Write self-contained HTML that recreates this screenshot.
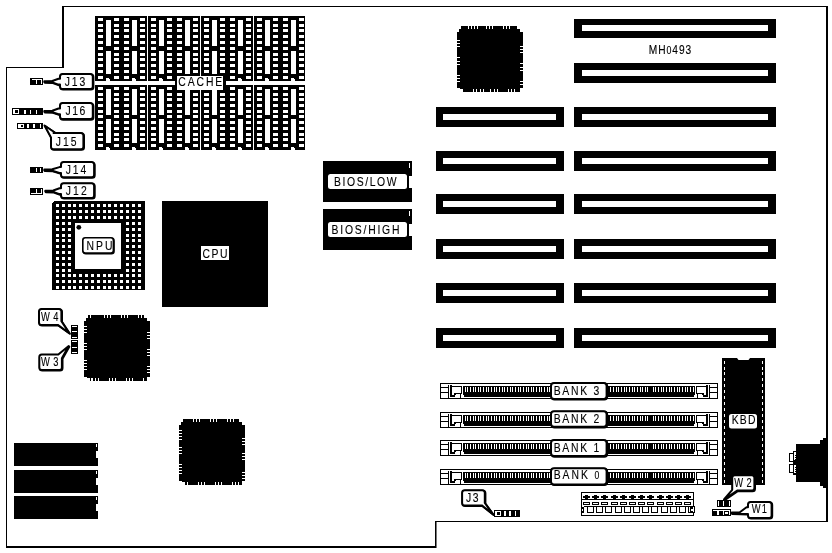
<!DOCTYPE html>
<html><head><meta charset="utf-8"><title>MH0493</title>
<style>
html,body{margin:0;padding:0;background:#fff;}
svg{display:block;filter:grayscale(1);}
text{font-family:"Liberation Sans",sans-serif;fill:#000;stroke:#000;stroke-width:0.12px;}
</style></head><body>
<svg width="832" height="553" viewBox="0 0 832 553" shape-rendering="crispEdges">
<rect x="0" y="0" width="832" height="553" fill="#fff"/>
<rect x="62" y="6" width="766" height="1" fill="#000"/>
<rect x="62" y="6" width="2" height="62" fill="#000"/>
<rect x="6" y="67" width="57" height="1" fill="#000"/>
<rect x="6" y="67" width="1" height="481" fill="#000"/>
<rect x="6" y="546" width="431" height="2" fill="#000"/>
<rect x="435" y="521" width="1" height="27" fill="#000"/>
<rect x="436" y="521" width="1" height="27" fill="#777"/>
<rect x="435" y="521" width="393" height="1" fill="#000"/>
<rect x="826" y="6" width="2" height="516" fill="#000"/>
<rect x="95" y="16" width="52" height="65" fill="#000"/>
<rect x="98" y="18" width="5" height="3" fill="#fff"/>
<rect x="98" y="24" width="5" height="3" fill="#fff"/>
<rect x="98" y="29" width="5" height="3" fill="#fff"/>
<rect x="98" y="35" width="5" height="3" fill="#fff"/>
<rect x="98" y="41" width="5" height="3" fill="#fff"/>
<rect x="98" y="47" width="5" height="3" fill="#fff"/>
<rect x="98" y="53" width="5" height="3" fill="#fff"/>
<rect x="98" y="58" width="5" height="3" fill="#fff"/>
<rect x="98" y="64" width="5" height="3" fill="#fff"/>
<rect x="98" y="70" width="5" height="3" fill="#fff"/>
<rect x="98" y="76" width="5" height="3" fill="#fff"/>
<rect x="114" y="18" width="5" height="3" fill="#fff"/>
<rect x="114" y="24" width="5" height="3" fill="#fff"/>
<rect x="114" y="29" width="5" height="3" fill="#fff"/>
<rect x="114" y="35" width="5" height="3" fill="#fff"/>
<rect x="114" y="41" width="5" height="3" fill="#fff"/>
<rect x="114" y="47" width="5" height="3" fill="#fff"/>
<rect x="114" y="53" width="5" height="3" fill="#fff"/>
<rect x="114" y="58" width="5" height="3" fill="#fff"/>
<rect x="114" y="64" width="5" height="3" fill="#fff"/>
<rect x="114" y="70" width="5" height="3" fill="#fff"/>
<rect x="114" y="76" width="5" height="3" fill="#fff"/>
<rect x="124" y="18" width="5" height="3" fill="#fff"/>
<rect x="124" y="24" width="5" height="3" fill="#fff"/>
<rect x="124" y="29" width="5" height="3" fill="#fff"/>
<rect x="124" y="35" width="5" height="3" fill="#fff"/>
<rect x="124" y="41" width="5" height="3" fill="#fff"/>
<rect x="124" y="47" width="5" height="3" fill="#fff"/>
<rect x="124" y="53" width="5" height="3" fill="#fff"/>
<rect x="124" y="58" width="5" height="3" fill="#fff"/>
<rect x="124" y="64" width="5" height="3" fill="#fff"/>
<rect x="124" y="70" width="5" height="3" fill="#fff"/>
<rect x="124" y="76" width="5" height="3" fill="#fff"/>
<rect x="140" y="18" width="5" height="3" fill="#fff"/>
<rect x="140" y="24" width="5" height="3" fill="#fff"/>
<rect x="140" y="29" width="5" height="3" fill="#fff"/>
<rect x="140" y="35" width="5" height="3" fill="#fff"/>
<rect x="140" y="41" width="5" height="3" fill="#fff"/>
<rect x="140" y="47" width="5" height="3" fill="#fff"/>
<rect x="140" y="53" width="5" height="3" fill="#fff"/>
<rect x="140" y="58" width="5" height="3" fill="#fff"/>
<rect x="140" y="64" width="5" height="3" fill="#fff"/>
<rect x="140" y="70" width="5" height="3" fill="#fff"/>
<rect x="140" y="76" width="5" height="3" fill="#fff"/>
<rect x="106" y="20" width="5" height="26" fill="#fff"/>
<rect x="106" y="51" width="5" height="23" fill="#fff"/>
<rect x="106" y="78" width="3" height="1" fill="#fff"/>
<rect x="106" y="79" width="4" height="2" fill="#fff"/>
<rect x="132" y="20" width="5" height="26" fill="#fff"/>
<rect x="132" y="51" width="5" height="23" fill="#fff"/>
<rect x="132" y="78" width="3" height="1" fill="#fff"/>
<rect x="132" y="79" width="4" height="2" fill="#fff"/>
<rect x="148" y="16" width="52" height="65" fill="#000"/>
<rect x="151" y="18" width="5" height="3" fill="#fff"/>
<rect x="151" y="24" width="5" height="3" fill="#fff"/>
<rect x="151" y="29" width="5" height="3" fill="#fff"/>
<rect x="151" y="35" width="5" height="3" fill="#fff"/>
<rect x="151" y="41" width="5" height="3" fill="#fff"/>
<rect x="151" y="47" width="5" height="3" fill="#fff"/>
<rect x="151" y="53" width="5" height="3" fill="#fff"/>
<rect x="151" y="58" width="5" height="3" fill="#fff"/>
<rect x="151" y="64" width="5" height="3" fill="#fff"/>
<rect x="151" y="70" width="5" height="3" fill="#fff"/>
<rect x="151" y="76" width="5" height="3" fill="#fff"/>
<rect x="167" y="18" width="5" height="3" fill="#fff"/>
<rect x="167" y="24" width="5" height="3" fill="#fff"/>
<rect x="167" y="29" width="5" height="3" fill="#fff"/>
<rect x="167" y="35" width="5" height="3" fill="#fff"/>
<rect x="167" y="41" width="5" height="3" fill="#fff"/>
<rect x="167" y="47" width="5" height="3" fill="#fff"/>
<rect x="167" y="53" width="5" height="3" fill="#fff"/>
<rect x="167" y="58" width="5" height="3" fill="#fff"/>
<rect x="167" y="64" width="5" height="3" fill="#fff"/>
<rect x="167" y="70" width="5" height="3" fill="#fff"/>
<rect x="167" y="76" width="5" height="3" fill="#fff"/>
<rect x="177" y="18" width="5" height="3" fill="#fff"/>
<rect x="177" y="24" width="5" height="3" fill="#fff"/>
<rect x="177" y="29" width="5" height="3" fill="#fff"/>
<rect x="177" y="35" width="5" height="3" fill="#fff"/>
<rect x="177" y="41" width="5" height="3" fill="#fff"/>
<rect x="177" y="47" width="5" height="3" fill="#fff"/>
<rect x="177" y="53" width="5" height="3" fill="#fff"/>
<rect x="177" y="58" width="5" height="3" fill="#fff"/>
<rect x="177" y="64" width="5" height="3" fill="#fff"/>
<rect x="177" y="70" width="5" height="3" fill="#fff"/>
<rect x="177" y="76" width="5" height="3" fill="#fff"/>
<rect x="193" y="18" width="5" height="3" fill="#fff"/>
<rect x="193" y="24" width="5" height="3" fill="#fff"/>
<rect x="193" y="29" width="5" height="3" fill="#fff"/>
<rect x="193" y="35" width="5" height="3" fill="#fff"/>
<rect x="193" y="41" width="5" height="3" fill="#fff"/>
<rect x="193" y="47" width="5" height="3" fill="#fff"/>
<rect x="193" y="53" width="5" height="3" fill="#fff"/>
<rect x="193" y="58" width="5" height="3" fill="#fff"/>
<rect x="193" y="64" width="5" height="3" fill="#fff"/>
<rect x="193" y="70" width="5" height="3" fill="#fff"/>
<rect x="193" y="76" width="5" height="3" fill="#fff"/>
<rect x="159" y="20" width="5" height="26" fill="#fff"/>
<rect x="159" y="51" width="5" height="23" fill="#fff"/>
<rect x="159" y="78" width="3" height="1" fill="#fff"/>
<rect x="159" y="79" width="4" height="2" fill="#fff"/>
<rect x="185" y="20" width="5" height="26" fill="#fff"/>
<rect x="185" y="51" width="5" height="23" fill="#fff"/>
<rect x="185" y="78" width="3" height="1" fill="#fff"/>
<rect x="185" y="79" width="4" height="2" fill="#fff"/>
<rect x="201" y="16" width="52" height="65" fill="#000"/>
<rect x="204" y="18" width="5" height="3" fill="#fff"/>
<rect x="204" y="24" width="5" height="3" fill="#fff"/>
<rect x="204" y="29" width="5" height="3" fill="#fff"/>
<rect x="204" y="35" width="5" height="3" fill="#fff"/>
<rect x="204" y="41" width="5" height="3" fill="#fff"/>
<rect x="204" y="47" width="5" height="3" fill="#fff"/>
<rect x="204" y="53" width="5" height="3" fill="#fff"/>
<rect x="204" y="58" width="5" height="3" fill="#fff"/>
<rect x="204" y="64" width="5" height="3" fill="#fff"/>
<rect x="204" y="70" width="5" height="3" fill="#fff"/>
<rect x="204" y="76" width="5" height="3" fill="#fff"/>
<rect x="220" y="18" width="5" height="3" fill="#fff"/>
<rect x="220" y="24" width="5" height="3" fill="#fff"/>
<rect x="220" y="29" width="5" height="3" fill="#fff"/>
<rect x="220" y="35" width="5" height="3" fill="#fff"/>
<rect x="220" y="41" width="5" height="3" fill="#fff"/>
<rect x="220" y="47" width="5" height="3" fill="#fff"/>
<rect x="220" y="53" width="5" height="3" fill="#fff"/>
<rect x="220" y="58" width="5" height="3" fill="#fff"/>
<rect x="220" y="64" width="5" height="3" fill="#fff"/>
<rect x="220" y="70" width="5" height="3" fill="#fff"/>
<rect x="220" y="76" width="5" height="3" fill="#fff"/>
<rect x="230" y="18" width="5" height="3" fill="#fff"/>
<rect x="230" y="24" width="5" height="3" fill="#fff"/>
<rect x="230" y="29" width="5" height="3" fill="#fff"/>
<rect x="230" y="35" width="5" height="3" fill="#fff"/>
<rect x="230" y="41" width="5" height="3" fill="#fff"/>
<rect x="230" y="47" width="5" height="3" fill="#fff"/>
<rect x="230" y="53" width="5" height="3" fill="#fff"/>
<rect x="230" y="58" width="5" height="3" fill="#fff"/>
<rect x="230" y="64" width="5" height="3" fill="#fff"/>
<rect x="230" y="70" width="5" height="3" fill="#fff"/>
<rect x="230" y="76" width="5" height="3" fill="#fff"/>
<rect x="246" y="18" width="5" height="3" fill="#fff"/>
<rect x="246" y="24" width="5" height="3" fill="#fff"/>
<rect x="246" y="29" width="5" height="3" fill="#fff"/>
<rect x="246" y="35" width="5" height="3" fill="#fff"/>
<rect x="246" y="41" width="5" height="3" fill="#fff"/>
<rect x="246" y="47" width="5" height="3" fill="#fff"/>
<rect x="246" y="53" width="5" height="3" fill="#fff"/>
<rect x="246" y="58" width="5" height="3" fill="#fff"/>
<rect x="246" y="64" width="5" height="3" fill="#fff"/>
<rect x="246" y="70" width="5" height="3" fill="#fff"/>
<rect x="246" y="76" width="5" height="3" fill="#fff"/>
<rect x="212" y="20" width="5" height="26" fill="#fff"/>
<rect x="212" y="51" width="5" height="23" fill="#fff"/>
<rect x="212" y="78" width="3" height="1" fill="#fff"/>
<rect x="212" y="79" width="4" height="2" fill="#fff"/>
<rect x="238" y="20" width="5" height="26" fill="#fff"/>
<rect x="238" y="51" width="5" height="23" fill="#fff"/>
<rect x="238" y="78" width="3" height="1" fill="#fff"/>
<rect x="238" y="79" width="4" height="2" fill="#fff"/>
<rect x="254" y="16" width="51" height="65" fill="#000"/>
<rect x="257" y="18" width="5" height="3" fill="#fff"/>
<rect x="257" y="24" width="5" height="3" fill="#fff"/>
<rect x="257" y="29" width="5" height="3" fill="#fff"/>
<rect x="257" y="35" width="5" height="3" fill="#fff"/>
<rect x="257" y="41" width="5" height="3" fill="#fff"/>
<rect x="257" y="47" width="5" height="3" fill="#fff"/>
<rect x="257" y="53" width="5" height="3" fill="#fff"/>
<rect x="257" y="58" width="5" height="3" fill="#fff"/>
<rect x="257" y="64" width="5" height="3" fill="#fff"/>
<rect x="257" y="70" width="5" height="3" fill="#fff"/>
<rect x="257" y="76" width="5" height="3" fill="#fff"/>
<rect x="273" y="18" width="5" height="3" fill="#fff"/>
<rect x="273" y="24" width="5" height="3" fill="#fff"/>
<rect x="273" y="29" width="5" height="3" fill="#fff"/>
<rect x="273" y="35" width="5" height="3" fill="#fff"/>
<rect x="273" y="41" width="5" height="3" fill="#fff"/>
<rect x="273" y="47" width="5" height="3" fill="#fff"/>
<rect x="273" y="53" width="5" height="3" fill="#fff"/>
<rect x="273" y="58" width="5" height="3" fill="#fff"/>
<rect x="273" y="64" width="5" height="3" fill="#fff"/>
<rect x="273" y="70" width="5" height="3" fill="#fff"/>
<rect x="273" y="76" width="5" height="3" fill="#fff"/>
<rect x="283" y="18" width="5" height="3" fill="#fff"/>
<rect x="283" y="24" width="5" height="3" fill="#fff"/>
<rect x="283" y="29" width="5" height="3" fill="#fff"/>
<rect x="283" y="35" width="5" height="3" fill="#fff"/>
<rect x="283" y="41" width="5" height="3" fill="#fff"/>
<rect x="283" y="47" width="5" height="3" fill="#fff"/>
<rect x="283" y="53" width="5" height="3" fill="#fff"/>
<rect x="283" y="58" width="5" height="3" fill="#fff"/>
<rect x="283" y="64" width="5" height="3" fill="#fff"/>
<rect x="283" y="70" width="5" height="3" fill="#fff"/>
<rect x="283" y="76" width="5" height="3" fill="#fff"/>
<rect x="299" y="18" width="5" height="3" fill="#fff"/>
<rect x="299" y="24" width="5" height="3" fill="#fff"/>
<rect x="299" y="29" width="5" height="3" fill="#fff"/>
<rect x="299" y="35" width="5" height="3" fill="#fff"/>
<rect x="299" y="41" width="5" height="3" fill="#fff"/>
<rect x="299" y="47" width="5" height="3" fill="#fff"/>
<rect x="299" y="53" width="5" height="3" fill="#fff"/>
<rect x="299" y="58" width="5" height="3" fill="#fff"/>
<rect x="299" y="64" width="5" height="3" fill="#fff"/>
<rect x="299" y="70" width="5" height="3" fill="#fff"/>
<rect x="299" y="76" width="5" height="3" fill="#fff"/>
<rect x="265" y="20" width="5" height="26" fill="#fff"/>
<rect x="265" y="51" width="5" height="23" fill="#fff"/>
<rect x="265" y="78" width="3" height="1" fill="#fff"/>
<rect x="265" y="79" width="4" height="2" fill="#fff"/>
<rect x="291" y="20" width="5" height="26" fill="#fff"/>
<rect x="291" y="51" width="5" height="23" fill="#fff"/>
<rect x="291" y="78" width="3" height="1" fill="#fff"/>
<rect x="291" y="79" width="4" height="2" fill="#fff"/>
<rect x="95" y="85" width="52" height="65" fill="#000"/>
<rect x="98" y="87" width="5" height="3" fill="#fff"/>
<rect x="98" y="93" width="5" height="3" fill="#fff"/>
<rect x="98" y="98" width="5" height="3" fill="#fff"/>
<rect x="98" y="104" width="5" height="3" fill="#fff"/>
<rect x="98" y="110" width="5" height="3" fill="#fff"/>
<rect x="98" y="115" width="5" height="3" fill="#fff"/>
<rect x="98" y="121" width="5" height="3" fill="#fff"/>
<rect x="98" y="127" width="5" height="3" fill="#fff"/>
<rect x="98" y="133" width="5" height="3" fill="#fff"/>
<rect x="98" y="138" width="5" height="3" fill="#fff"/>
<rect x="98" y="144" width="5" height="3" fill="#fff"/>
<rect x="114" y="87" width="5" height="3" fill="#fff"/>
<rect x="114" y="93" width="5" height="3" fill="#fff"/>
<rect x="114" y="98" width="5" height="3" fill="#fff"/>
<rect x="114" y="104" width="5" height="3" fill="#fff"/>
<rect x="114" y="110" width="5" height="3" fill="#fff"/>
<rect x="114" y="115" width="5" height="3" fill="#fff"/>
<rect x="114" y="121" width="5" height="3" fill="#fff"/>
<rect x="114" y="127" width="5" height="3" fill="#fff"/>
<rect x="114" y="133" width="5" height="3" fill="#fff"/>
<rect x="114" y="138" width="5" height="3" fill="#fff"/>
<rect x="114" y="144" width="5" height="3" fill="#fff"/>
<rect x="124" y="87" width="5" height="3" fill="#fff"/>
<rect x="124" y="93" width="5" height="3" fill="#fff"/>
<rect x="124" y="98" width="5" height="3" fill="#fff"/>
<rect x="124" y="104" width="5" height="3" fill="#fff"/>
<rect x="124" y="110" width="5" height="3" fill="#fff"/>
<rect x="124" y="115" width="5" height="3" fill="#fff"/>
<rect x="124" y="121" width="5" height="3" fill="#fff"/>
<rect x="124" y="127" width="5" height="3" fill="#fff"/>
<rect x="124" y="133" width="5" height="3" fill="#fff"/>
<rect x="124" y="138" width="5" height="3" fill="#fff"/>
<rect x="124" y="144" width="5" height="3" fill="#fff"/>
<rect x="140" y="87" width="5" height="3" fill="#fff"/>
<rect x="140" y="93" width="5" height="3" fill="#fff"/>
<rect x="140" y="98" width="5" height="3" fill="#fff"/>
<rect x="140" y="104" width="5" height="3" fill="#fff"/>
<rect x="140" y="110" width="5" height="3" fill="#fff"/>
<rect x="140" y="115" width="5" height="3" fill="#fff"/>
<rect x="140" y="121" width="5" height="3" fill="#fff"/>
<rect x="140" y="127" width="5" height="3" fill="#fff"/>
<rect x="140" y="133" width="5" height="3" fill="#fff"/>
<rect x="140" y="138" width="5" height="3" fill="#fff"/>
<rect x="140" y="144" width="5" height="3" fill="#fff"/>
<rect x="106" y="89" width="5" height="26" fill="#fff"/>
<rect x="106" y="119" width="5" height="24" fill="#fff"/>
<rect x="106" y="147" width="3" height="1" fill="#fff"/>
<rect x="106" y="148" width="4" height="2" fill="#fff"/>
<rect x="132" y="89" width="5" height="26" fill="#fff"/>
<rect x="132" y="119" width="5" height="24" fill="#fff"/>
<rect x="132" y="147" width="3" height="1" fill="#fff"/>
<rect x="132" y="148" width="4" height="2" fill="#fff"/>
<rect x="148" y="85" width="52" height="65" fill="#000"/>
<rect x="151" y="87" width="5" height="3" fill="#fff"/>
<rect x="151" y="93" width="5" height="3" fill="#fff"/>
<rect x="151" y="98" width="5" height="3" fill="#fff"/>
<rect x="151" y="104" width="5" height="3" fill="#fff"/>
<rect x="151" y="110" width="5" height="3" fill="#fff"/>
<rect x="151" y="115" width="5" height="3" fill="#fff"/>
<rect x="151" y="121" width="5" height="3" fill="#fff"/>
<rect x="151" y="127" width="5" height="3" fill="#fff"/>
<rect x="151" y="133" width="5" height="3" fill="#fff"/>
<rect x="151" y="138" width="5" height="3" fill="#fff"/>
<rect x="151" y="144" width="5" height="3" fill="#fff"/>
<rect x="167" y="87" width="5" height="3" fill="#fff"/>
<rect x="167" y="93" width="5" height="3" fill="#fff"/>
<rect x="167" y="98" width="5" height="3" fill="#fff"/>
<rect x="167" y="104" width="5" height="3" fill="#fff"/>
<rect x="167" y="110" width="5" height="3" fill="#fff"/>
<rect x="167" y="115" width="5" height="3" fill="#fff"/>
<rect x="167" y="121" width="5" height="3" fill="#fff"/>
<rect x="167" y="127" width="5" height="3" fill="#fff"/>
<rect x="167" y="133" width="5" height="3" fill="#fff"/>
<rect x="167" y="138" width="5" height="3" fill="#fff"/>
<rect x="167" y="144" width="5" height="3" fill="#fff"/>
<rect x="177" y="87" width="5" height="3" fill="#fff"/>
<rect x="177" y="93" width="5" height="3" fill="#fff"/>
<rect x="177" y="98" width="5" height="3" fill="#fff"/>
<rect x="177" y="104" width="5" height="3" fill="#fff"/>
<rect x="177" y="110" width="5" height="3" fill="#fff"/>
<rect x="177" y="115" width="5" height="3" fill="#fff"/>
<rect x="177" y="121" width="5" height="3" fill="#fff"/>
<rect x="177" y="127" width="5" height="3" fill="#fff"/>
<rect x="177" y="133" width="5" height="3" fill="#fff"/>
<rect x="177" y="138" width="5" height="3" fill="#fff"/>
<rect x="177" y="144" width="5" height="3" fill="#fff"/>
<rect x="193" y="87" width="5" height="3" fill="#fff"/>
<rect x="193" y="93" width="5" height="3" fill="#fff"/>
<rect x="193" y="98" width="5" height="3" fill="#fff"/>
<rect x="193" y="104" width="5" height="3" fill="#fff"/>
<rect x="193" y="110" width="5" height="3" fill="#fff"/>
<rect x="193" y="115" width="5" height="3" fill="#fff"/>
<rect x="193" y="121" width="5" height="3" fill="#fff"/>
<rect x="193" y="127" width="5" height="3" fill="#fff"/>
<rect x="193" y="133" width="5" height="3" fill="#fff"/>
<rect x="193" y="138" width="5" height="3" fill="#fff"/>
<rect x="193" y="144" width="5" height="3" fill="#fff"/>
<rect x="159" y="89" width="5" height="26" fill="#fff"/>
<rect x="159" y="119" width="5" height="24" fill="#fff"/>
<rect x="159" y="147" width="3" height="1" fill="#fff"/>
<rect x="159" y="148" width="4" height="2" fill="#fff"/>
<rect x="185" y="89" width="5" height="26" fill="#fff"/>
<rect x="185" y="119" width="5" height="24" fill="#fff"/>
<rect x="185" y="147" width="3" height="1" fill="#fff"/>
<rect x="185" y="148" width="4" height="2" fill="#fff"/>
<rect x="201" y="85" width="52" height="65" fill="#000"/>
<rect x="204" y="87" width="5" height="3" fill="#fff"/>
<rect x="204" y="93" width="5" height="3" fill="#fff"/>
<rect x="204" y="98" width="5" height="3" fill="#fff"/>
<rect x="204" y="104" width="5" height="3" fill="#fff"/>
<rect x="204" y="110" width="5" height="3" fill="#fff"/>
<rect x="204" y="115" width="5" height="3" fill="#fff"/>
<rect x="204" y="121" width="5" height="3" fill="#fff"/>
<rect x="204" y="127" width="5" height="3" fill="#fff"/>
<rect x="204" y="133" width="5" height="3" fill="#fff"/>
<rect x="204" y="138" width="5" height="3" fill="#fff"/>
<rect x="204" y="144" width="5" height="3" fill="#fff"/>
<rect x="220" y="87" width="5" height="3" fill="#fff"/>
<rect x="220" y="93" width="5" height="3" fill="#fff"/>
<rect x="220" y="98" width="5" height="3" fill="#fff"/>
<rect x="220" y="104" width="5" height="3" fill="#fff"/>
<rect x="220" y="110" width="5" height="3" fill="#fff"/>
<rect x="220" y="115" width="5" height="3" fill="#fff"/>
<rect x="220" y="121" width="5" height="3" fill="#fff"/>
<rect x="220" y="127" width="5" height="3" fill="#fff"/>
<rect x="220" y="133" width="5" height="3" fill="#fff"/>
<rect x="220" y="138" width="5" height="3" fill="#fff"/>
<rect x="220" y="144" width="5" height="3" fill="#fff"/>
<rect x="230" y="87" width="5" height="3" fill="#fff"/>
<rect x="230" y="93" width="5" height="3" fill="#fff"/>
<rect x="230" y="98" width="5" height="3" fill="#fff"/>
<rect x="230" y="104" width="5" height="3" fill="#fff"/>
<rect x="230" y="110" width="5" height="3" fill="#fff"/>
<rect x="230" y="115" width="5" height="3" fill="#fff"/>
<rect x="230" y="121" width="5" height="3" fill="#fff"/>
<rect x="230" y="127" width="5" height="3" fill="#fff"/>
<rect x="230" y="133" width="5" height="3" fill="#fff"/>
<rect x="230" y="138" width="5" height="3" fill="#fff"/>
<rect x="230" y="144" width="5" height="3" fill="#fff"/>
<rect x="246" y="87" width="5" height="3" fill="#fff"/>
<rect x="246" y="93" width="5" height="3" fill="#fff"/>
<rect x="246" y="98" width="5" height="3" fill="#fff"/>
<rect x="246" y="104" width="5" height="3" fill="#fff"/>
<rect x="246" y="110" width="5" height="3" fill="#fff"/>
<rect x="246" y="115" width="5" height="3" fill="#fff"/>
<rect x="246" y="121" width="5" height="3" fill="#fff"/>
<rect x="246" y="127" width="5" height="3" fill="#fff"/>
<rect x="246" y="133" width="5" height="3" fill="#fff"/>
<rect x="246" y="138" width="5" height="3" fill="#fff"/>
<rect x="246" y="144" width="5" height="3" fill="#fff"/>
<rect x="212" y="89" width="5" height="26" fill="#fff"/>
<rect x="212" y="119" width="5" height="24" fill="#fff"/>
<rect x="212" y="147" width="3" height="1" fill="#fff"/>
<rect x="212" y="148" width="4" height="2" fill="#fff"/>
<rect x="238" y="89" width="5" height="26" fill="#fff"/>
<rect x="238" y="119" width="5" height="24" fill="#fff"/>
<rect x="238" y="147" width="3" height="1" fill="#fff"/>
<rect x="238" y="148" width="4" height="2" fill="#fff"/>
<rect x="254" y="85" width="51" height="65" fill="#000"/>
<rect x="257" y="87" width="5" height="3" fill="#fff"/>
<rect x="257" y="93" width="5" height="3" fill="#fff"/>
<rect x="257" y="98" width="5" height="3" fill="#fff"/>
<rect x="257" y="104" width="5" height="3" fill="#fff"/>
<rect x="257" y="110" width="5" height="3" fill="#fff"/>
<rect x="257" y="115" width="5" height="3" fill="#fff"/>
<rect x="257" y="121" width="5" height="3" fill="#fff"/>
<rect x="257" y="127" width="5" height="3" fill="#fff"/>
<rect x="257" y="133" width="5" height="3" fill="#fff"/>
<rect x="257" y="138" width="5" height="3" fill="#fff"/>
<rect x="257" y="144" width="5" height="3" fill="#fff"/>
<rect x="273" y="87" width="5" height="3" fill="#fff"/>
<rect x="273" y="93" width="5" height="3" fill="#fff"/>
<rect x="273" y="98" width="5" height="3" fill="#fff"/>
<rect x="273" y="104" width="5" height="3" fill="#fff"/>
<rect x="273" y="110" width="5" height="3" fill="#fff"/>
<rect x="273" y="115" width="5" height="3" fill="#fff"/>
<rect x="273" y="121" width="5" height="3" fill="#fff"/>
<rect x="273" y="127" width="5" height="3" fill="#fff"/>
<rect x="273" y="133" width="5" height="3" fill="#fff"/>
<rect x="273" y="138" width="5" height="3" fill="#fff"/>
<rect x="273" y="144" width="5" height="3" fill="#fff"/>
<rect x="283" y="87" width="5" height="3" fill="#fff"/>
<rect x="283" y="93" width="5" height="3" fill="#fff"/>
<rect x="283" y="98" width="5" height="3" fill="#fff"/>
<rect x="283" y="104" width="5" height="3" fill="#fff"/>
<rect x="283" y="110" width="5" height="3" fill="#fff"/>
<rect x="283" y="115" width="5" height="3" fill="#fff"/>
<rect x="283" y="121" width="5" height="3" fill="#fff"/>
<rect x="283" y="127" width="5" height="3" fill="#fff"/>
<rect x="283" y="133" width="5" height="3" fill="#fff"/>
<rect x="283" y="138" width="5" height="3" fill="#fff"/>
<rect x="283" y="144" width="5" height="3" fill="#fff"/>
<rect x="299" y="87" width="5" height="3" fill="#fff"/>
<rect x="299" y="93" width="5" height="3" fill="#fff"/>
<rect x="299" y="98" width="5" height="3" fill="#fff"/>
<rect x="299" y="104" width="5" height="3" fill="#fff"/>
<rect x="299" y="110" width="5" height="3" fill="#fff"/>
<rect x="299" y="115" width="5" height="3" fill="#fff"/>
<rect x="299" y="121" width="5" height="3" fill="#fff"/>
<rect x="299" y="127" width="5" height="3" fill="#fff"/>
<rect x="299" y="133" width="5" height="3" fill="#fff"/>
<rect x="299" y="138" width="5" height="3" fill="#fff"/>
<rect x="299" y="144" width="5" height="3" fill="#fff"/>
<rect x="265" y="89" width="5" height="26" fill="#fff"/>
<rect x="265" y="119" width="5" height="24" fill="#fff"/>
<rect x="265" y="147" width="3" height="1" fill="#fff"/>
<rect x="265" y="148" width="4" height="2" fill="#fff"/>
<rect x="291" y="89" width="5" height="26" fill="#fff"/>
<rect x="291" y="119" width="5" height="24" fill="#fff"/>
<rect x="291" y="147" width="3" height="1" fill="#fff"/>
<rect x="291" y="148" width="4" height="2" fill="#fff"/>
<rect x="95" y="81" width="210" height="4" fill="#fff"/>
<rect x="175" y="76" width="51" height="14" fill="#000"/>
<rect x="177" y="76" width="46" height="14" fill="#fff"/>
<text transform="translate(178.3 86) scale(0.8 1)" font-size="13" textLength="55.00" lengthAdjust="spacing">CACHE</text>
<path d="M54 201 L145 201 L145 290 L52 290 L52 203 Z" fill="#000" stroke="none" stroke-width="1" />
<rect x="56" y="204" width="3" height="3" fill="#fff"/>
<rect x="56" y="210" width="3" height="3" fill="#fff"/>
<rect x="56" y="216" width="3" height="3" fill="#fff"/>
<rect x="56" y="222" width="3" height="3" fill="#fff"/>
<rect x="56" y="228" width="3" height="3" fill="#fff"/>
<rect x="56" y="234" width="3" height="3" fill="#fff"/>
<rect x="56" y="239" width="3" height="3" fill="#fff"/>
<rect x="56" y="245" width="3" height="3" fill="#fff"/>
<rect x="56" y="251" width="3" height="3" fill="#fff"/>
<rect x="56" y="257" width="3" height="3" fill="#fff"/>
<rect x="56" y="263" width="3" height="3" fill="#fff"/>
<rect x="56" y="269" width="3" height="3" fill="#fff"/>
<rect x="56" y="274" width="3" height="3" fill="#fff"/>
<rect x="56" y="280" width="3" height="3" fill="#fff"/>
<rect x="56" y="286" width="3" height="3" fill="#fff"/>
<rect x="62" y="204" width="3" height="3" fill="#fff"/>
<rect x="62" y="210" width="3" height="3" fill="#fff"/>
<rect x="62" y="216" width="3" height="3" fill="#fff"/>
<rect x="62" y="222" width="3" height="3" fill="#fff"/>
<rect x="62" y="228" width="3" height="3" fill="#fff"/>
<rect x="62" y="234" width="3" height="3" fill="#fff"/>
<rect x="62" y="239" width="3" height="3" fill="#fff"/>
<rect x="62" y="245" width="3" height="3" fill="#fff"/>
<rect x="62" y="251" width="3" height="3" fill="#fff"/>
<rect x="62" y="257" width="3" height="3" fill="#fff"/>
<rect x="62" y="263" width="3" height="3" fill="#fff"/>
<rect x="62" y="269" width="3" height="3" fill="#fff"/>
<rect x="62" y="274" width="3" height="3" fill="#fff"/>
<rect x="62" y="280" width="3" height="3" fill="#fff"/>
<rect x="62" y="286" width="3" height="3" fill="#fff"/>
<rect x="68" y="204" width="3" height="3" fill="#fff"/>
<rect x="68" y="210" width="3" height="3" fill="#fff"/>
<rect x="68" y="216" width="3" height="3" fill="#fff"/>
<rect x="68" y="222" width="3" height="3" fill="#fff"/>
<rect x="68" y="228" width="3" height="3" fill="#fff"/>
<rect x="68" y="234" width="3" height="3" fill="#fff"/>
<rect x="68" y="239" width="3" height="3" fill="#fff"/>
<rect x="68" y="245" width="3" height="3" fill="#fff"/>
<rect x="68" y="251" width="3" height="3" fill="#fff"/>
<rect x="68" y="257" width="3" height="3" fill="#fff"/>
<rect x="68" y="263" width="3" height="3" fill="#fff"/>
<rect x="68" y="269" width="3" height="3" fill="#fff"/>
<rect x="68" y="274" width="3" height="3" fill="#fff"/>
<rect x="68" y="280" width="3" height="3" fill="#fff"/>
<rect x="68" y="286" width="3" height="3" fill="#fff"/>
<rect x="73" y="204" width="3" height="3" fill="#fff"/>
<rect x="73" y="210" width="3" height="3" fill="#fff"/>
<rect x="73" y="216" width="3" height="3" fill="#fff"/>
<rect x="73" y="274" width="3" height="3" fill="#fff"/>
<rect x="73" y="280" width="3" height="3" fill="#fff"/>
<rect x="73" y="286" width="3" height="3" fill="#fff"/>
<rect x="79" y="204" width="3" height="3" fill="#fff"/>
<rect x="79" y="210" width="3" height="3" fill="#fff"/>
<rect x="79" y="216" width="3" height="3" fill="#fff"/>
<rect x="79" y="274" width="3" height="3" fill="#fff"/>
<rect x="79" y="280" width="3" height="3" fill="#fff"/>
<rect x="79" y="286" width="3" height="3" fill="#fff"/>
<rect x="85" y="204" width="3" height="3" fill="#fff"/>
<rect x="85" y="210" width="3" height="3" fill="#fff"/>
<rect x="85" y="216" width="3" height="3" fill="#fff"/>
<rect x="85" y="274" width="3" height="3" fill="#fff"/>
<rect x="85" y="280" width="3" height="3" fill="#fff"/>
<rect x="85" y="286" width="3" height="3" fill="#fff"/>
<rect x="91" y="204" width="3" height="3" fill="#fff"/>
<rect x="91" y="210" width="3" height="3" fill="#fff"/>
<rect x="91" y="216" width="3" height="3" fill="#fff"/>
<rect x="91" y="274" width="3" height="3" fill="#fff"/>
<rect x="91" y="280" width="3" height="3" fill="#fff"/>
<rect x="91" y="286" width="3" height="3" fill="#fff"/>
<rect x="97" y="204" width="3" height="3" fill="#fff"/>
<rect x="97" y="210" width="3" height="3" fill="#fff"/>
<rect x="97" y="216" width="3" height="3" fill="#fff"/>
<rect x="97" y="274" width="3" height="3" fill="#fff"/>
<rect x="97" y="280" width="3" height="3" fill="#fff"/>
<rect x="97" y="286" width="3" height="3" fill="#fff"/>
<rect x="103" y="204" width="3" height="3" fill="#fff"/>
<rect x="103" y="210" width="3" height="3" fill="#fff"/>
<rect x="103" y="216" width="3" height="3" fill="#fff"/>
<rect x="103" y="274" width="3" height="3" fill="#fff"/>
<rect x="103" y="280" width="3" height="3" fill="#fff"/>
<rect x="103" y="286" width="3" height="3" fill="#fff"/>
<rect x="108" y="204" width="3" height="3" fill="#fff"/>
<rect x="108" y="210" width="3" height="3" fill="#fff"/>
<rect x="108" y="216" width="3" height="3" fill="#fff"/>
<rect x="108" y="274" width="3" height="3" fill="#fff"/>
<rect x="108" y="280" width="3" height="3" fill="#fff"/>
<rect x="108" y="286" width="3" height="3" fill="#fff"/>
<rect x="114" y="204" width="3" height="3" fill="#fff"/>
<rect x="114" y="210" width="3" height="3" fill="#fff"/>
<rect x="114" y="216" width="3" height="3" fill="#fff"/>
<rect x="114" y="274" width="3" height="3" fill="#fff"/>
<rect x="114" y="280" width="3" height="3" fill="#fff"/>
<rect x="114" y="286" width="3" height="3" fill="#fff"/>
<rect x="120" y="204" width="3" height="3" fill="#fff"/>
<rect x="120" y="210" width="3" height="3" fill="#fff"/>
<rect x="120" y="216" width="3" height="3" fill="#fff"/>
<rect x="120" y="274" width="3" height="3" fill="#fff"/>
<rect x="120" y="280" width="3" height="3" fill="#fff"/>
<rect x="120" y="286" width="3" height="3" fill="#fff"/>
<rect x="126" y="204" width="3" height="3" fill="#fff"/>
<rect x="126" y="210" width="3" height="3" fill="#fff"/>
<rect x="126" y="216" width="3" height="3" fill="#fff"/>
<rect x="126" y="222" width="3" height="3" fill="#fff"/>
<rect x="126" y="228" width="3" height="3" fill="#fff"/>
<rect x="126" y="234" width="3" height="3" fill="#fff"/>
<rect x="126" y="239" width="3" height="3" fill="#fff"/>
<rect x="126" y="245" width="3" height="3" fill="#fff"/>
<rect x="126" y="251" width="3" height="3" fill="#fff"/>
<rect x="126" y="257" width="3" height="3" fill="#fff"/>
<rect x="126" y="263" width="3" height="3" fill="#fff"/>
<rect x="126" y="269" width="3" height="3" fill="#fff"/>
<rect x="126" y="274" width="3" height="3" fill="#fff"/>
<rect x="126" y="280" width="3" height="3" fill="#fff"/>
<rect x="126" y="286" width="3" height="3" fill="#fff"/>
<rect x="132" y="204" width="3" height="3" fill="#fff"/>
<rect x="132" y="210" width="3" height="3" fill="#fff"/>
<rect x="132" y="216" width="3" height="3" fill="#fff"/>
<rect x="132" y="222" width="3" height="3" fill="#fff"/>
<rect x="132" y="228" width="3" height="3" fill="#fff"/>
<rect x="132" y="234" width="3" height="3" fill="#fff"/>
<rect x="132" y="239" width="3" height="3" fill="#fff"/>
<rect x="132" y="245" width="3" height="3" fill="#fff"/>
<rect x="132" y="251" width="3" height="3" fill="#fff"/>
<rect x="132" y="257" width="3" height="3" fill="#fff"/>
<rect x="132" y="263" width="3" height="3" fill="#fff"/>
<rect x="132" y="269" width="3" height="3" fill="#fff"/>
<rect x="132" y="274" width="3" height="3" fill="#fff"/>
<rect x="132" y="280" width="3" height="3" fill="#fff"/>
<rect x="132" y="286" width="3" height="3" fill="#fff"/>
<rect x="138" y="204" width="3" height="3" fill="#fff"/>
<rect x="138" y="210" width="3" height="3" fill="#fff"/>
<rect x="138" y="216" width="3" height="3" fill="#fff"/>
<rect x="138" y="222" width="3" height="3" fill="#fff"/>
<rect x="138" y="228" width="3" height="3" fill="#fff"/>
<rect x="138" y="234" width="3" height="3" fill="#fff"/>
<rect x="138" y="239" width="3" height="3" fill="#fff"/>
<rect x="138" y="245" width="3" height="3" fill="#fff"/>
<rect x="138" y="251" width="3" height="3" fill="#fff"/>
<rect x="138" y="257" width="3" height="3" fill="#fff"/>
<rect x="138" y="263" width="3" height="3" fill="#fff"/>
<rect x="138" y="269" width="3" height="3" fill="#fff"/>
<rect x="138" y="274" width="3" height="3" fill="#fff"/>
<rect x="138" y="280" width="3" height="3" fill="#fff"/>
<rect x="138" y="286" width="3" height="3" fill="#fff"/>
<rect x="75" y="223" width="46" height="46" fill="#fff"/>
<circle cx="78.8" cy="227.3" r="2.4" fill="#000" shape-rendering="geometricPrecision"/>
<path d="M85.3 237.8 L110.9 237.8 Q113.4 237.8 113.4 240.3 L113.4 250.6 Q113.4 253.1 110.9 253.1 L85.3 253.1 Q82.8 253.1 82.8 250.6  L82.8 240.3 Q82.8 237.8 85.3 237.8 Z" transform="translate(0.6 0.6)" fill="#fff" stroke="#000" stroke-width="1.6" stroke-linejoin="round" shape-rendering="geometricPrecision"/>
<path d="M85.3 237.8 L110.9 237.8 Q113.4 237.8 113.4 240.3 L113.4 250.6 Q113.4 253.1 110.9 253.1 L85.3 253.1 Q82.8 253.1 82.8 250.6  L82.8 240.3 Q82.8 237.8 85.3 237.8 Z" fill="#fff" stroke="#000" stroke-width="1.6" stroke-linejoin="round" shape-rendering="geometricPrecision"/>
<text transform="translate(86.5 249.7) scale(0.8 1)" font-size="13" textLength="32.50" lengthAdjust="spacing">NPU</text>
<rect x="162" y="201" width="106" height="106" fill="#000"/>
<rect x="201" y="246" width="28" height="14" fill="#fff"/>
<text transform="translate(202.5 257.8) scale(0.8 1)" font-size="13" textLength="31.25" lengthAdjust="spacing">CPU</text>
<path d="M88 315 H144 V318 H147 V320 H150 V377 H147 V381 H90 V378 H87 V377 H84 V321 H86 V318 H88 Z" fill="#000" stroke="none" stroke-width="1" />
<rect x="90" y="315" width="1" height="3" fill="#fff"/>
<rect x="104" y="315" width="1" height="3" fill="#fff"/>
<rect x="107" y="315" width="1" height="3" fill="#fff"/>
<rect x="110" y="315" width="1" height="3" fill="#fff"/>
<rect x="121" y="315" width="1" height="3" fill="#fff"/>
<rect x="124" y="315" width="1" height="3" fill="#fff"/>
<rect x="127" y="315" width="1" height="3" fill="#fff"/>
<rect x="138" y="315" width="1" height="3" fill="#fff"/>
<rect x="141" y="315" width="1" height="3" fill="#fff"/>
<rect x="91" y="378" width="1" height="3" fill="#fff"/>
<rect x="92" y="378" width="1" height="3" fill="#fff"/>
<rect x="95" y="378" width="1" height="3" fill="#fff"/>
<rect x="98" y="378" width="1" height="3" fill="#fff"/>
<rect x="109" y="378" width="1" height="3" fill="#fff"/>
<rect x="112" y="378" width="1" height="3" fill="#fff"/>
<rect x="115" y="378" width="1" height="3" fill="#fff"/>
<rect x="126" y="378" width="1" height="3" fill="#fff"/>
<rect x="129" y="378" width="1" height="3" fill="#fff"/>
<rect x="132" y="378" width="1" height="3" fill="#fff"/>
<rect x="143" y="378" width="1" height="3" fill="#fff"/>
<rect x="84" y="326" width="3" height="1" fill="#fff"/>
<rect x="84" y="329" width="3" height="1" fill="#fff"/>
<rect x="84" y="332" width="3" height="1" fill="#fff"/>
<rect x="84" y="343" width="3" height="1" fill="#fff"/>
<rect x="84" y="346" width="3" height="1" fill="#fff"/>
<rect x="84" y="349" width="3" height="1" fill="#fff"/>
<rect x="84" y="360" width="3" height="1" fill="#fff"/>
<rect x="84" y="363" width="3" height="1" fill="#fff"/>
<rect x="84" y="366" width="3" height="1" fill="#fff"/>
<rect x="84" y="369" width="3" height="1" fill="#fff"/>
<rect x="147" y="320" width="3" height="1" fill="#fff"/>
<rect x="147" y="332" width="3" height="1" fill="#fff"/>
<rect x="147" y="335" width="3" height="1" fill="#fff"/>
<rect x="147" y="338" width="3" height="1" fill="#fff"/>
<rect x="147" y="349" width="3" height="1" fill="#fff"/>
<rect x="147" y="352" width="3" height="1" fill="#fff"/>
<rect x="147" y="355" width="3" height="1" fill="#fff"/>
<rect x="147" y="366" width="3" height="1" fill="#fff"/>
<rect x="147" y="369" width="3" height="1" fill="#fff"/>
<rect x="147" y="372" width="3" height="1" fill="#fff"/>
<path d="M183 419 H239 V422 H242 V424 H245 V481 H242 V485 H185 V482 H182 V481 H179 V425 H181 V422 H183 Z" fill="#000" stroke="none" stroke-width="1" />
<rect x="193" y="419" width="1" height="3" fill="#fff"/>
<rect x="196" y="419" width="1" height="3" fill="#fff"/>
<rect x="199" y="419" width="1" height="3" fill="#fff"/>
<rect x="210" y="419" width="1" height="3" fill="#fff"/>
<rect x="213" y="419" width="1" height="3" fill="#fff"/>
<rect x="216" y="419" width="1" height="3" fill="#fff"/>
<rect x="227" y="419" width="1" height="3" fill="#fff"/>
<rect x="230" y="419" width="1" height="3" fill="#fff"/>
<rect x="233" y="419" width="1" height="3" fill="#fff"/>
<rect x="187" y="482" width="1" height="3" fill="#fff"/>
<rect x="198" y="482" width="1" height="3" fill="#fff"/>
<rect x="201" y="482" width="1" height="3" fill="#fff"/>
<rect x="204" y="482" width="1" height="3" fill="#fff"/>
<rect x="215" y="482" width="1" height="3" fill="#fff"/>
<rect x="218" y="482" width="1" height="3" fill="#fff"/>
<rect x="221" y="482" width="1" height="3" fill="#fff"/>
<rect x="232" y="482" width="1" height="3" fill="#fff"/>
<rect x="235" y="482" width="1" height="3" fill="#fff"/>
<rect x="238" y="482" width="1" height="3" fill="#fff"/>
<rect x="179" y="430" width="3" height="1" fill="#fff"/>
<rect x="179" y="433" width="3" height="1" fill="#fff"/>
<rect x="179" y="436" width="3" height="1" fill="#fff"/>
<rect x="179" y="439" width="3" height="1" fill="#fff"/>
<rect x="179" y="447" width="3" height="1" fill="#fff"/>
<rect x="179" y="450" width="3" height="1" fill="#fff"/>
<rect x="179" y="453" width="3" height="1" fill="#fff"/>
<rect x="179" y="464" width="3" height="1" fill="#fff"/>
<rect x="179" y="467" width="3" height="1" fill="#fff"/>
<rect x="179" y="470" width="3" height="1" fill="#fff"/>
<rect x="179" y="473" width="3" height="1" fill="#fff"/>
<rect x="242" y="424" width="3" height="1" fill="#fff"/>
<rect x="242" y="438" width="3" height="1" fill="#fff"/>
<rect x="242" y="441" width="3" height="1" fill="#fff"/>
<rect x="242" y="444" width="3" height="1" fill="#fff"/>
<rect x="242" y="453" width="3" height="1" fill="#fff"/>
<rect x="242" y="456" width="3" height="1" fill="#fff"/>
<rect x="242" y="459" width="3" height="1" fill="#fff"/>
<rect x="242" y="472" width="3" height="1" fill="#fff"/>
<rect x="242" y="475" width="3" height="1" fill="#fff"/>
<rect x="242" y="478" width="3" height="1" fill="#fff"/>
<path d="M461 26 H517 V29 H520 V31 H523 V88 H520 V92 H463 V89 H460 V88 H457 V32 H459 V29 H461 Z" fill="#000" stroke="none" stroke-width="1" />
<rect x="468" y="26" width="1" height="3" fill="#fff"/>
<rect x="471" y="26" width="1" height="3" fill="#fff"/>
<rect x="474" y="26" width="1" height="3" fill="#fff"/>
<rect x="477" y="26" width="1" height="3" fill="#fff"/>
<rect x="486" y="26" width="1" height="3" fill="#fff"/>
<rect x="489" y="26" width="1" height="3" fill="#fff"/>
<rect x="492" y="26" width="1" height="3" fill="#fff"/>
<rect x="503" y="26" width="1" height="3" fill="#fff"/>
<rect x="506" y="26" width="1" height="3" fill="#fff"/>
<rect x="509" y="26" width="1" height="3" fill="#fff"/>
<rect x="473" y="89" width="1" height="3" fill="#fff"/>
<rect x="476" y="89" width="1" height="3" fill="#fff"/>
<rect x="480" y="89" width="1" height="3" fill="#fff"/>
<rect x="483" y="89" width="1" height="3" fill="#fff"/>
<rect x="490" y="89" width="1" height="3" fill="#fff"/>
<rect x="494" y="89" width="1" height="3" fill="#fff"/>
<rect x="497" y="89" width="1" height="3" fill="#fff"/>
<rect x="508" y="89" width="1" height="3" fill="#fff"/>
<rect x="511" y="89" width="1" height="3" fill="#fff"/>
<rect x="514" y="89" width="1" height="3" fill="#fff"/>
<rect x="457" y="40" width="3" height="1" fill="#fff"/>
<rect x="457" y="43" width="3" height="1" fill="#fff"/>
<rect x="457" y="46" width="3" height="1" fill="#fff"/>
<rect x="457" y="57" width="3" height="1" fill="#fff"/>
<rect x="457" y="61" width="3" height="1" fill="#fff"/>
<rect x="457" y="64" width="3" height="1" fill="#fff"/>
<rect x="457" y="75" width="3" height="1" fill="#fff"/>
<rect x="457" y="78" width="3" height="1" fill="#fff"/>
<rect x="457" y="81" width="3" height="1" fill="#fff"/>
<rect x="520" y="31" width="3" height="1" fill="#fff"/>
<rect x="520" y="46" width="3" height="1" fill="#fff"/>
<rect x="520" y="49" width="3" height="1" fill="#fff"/>
<rect x="520" y="52" width="3" height="1" fill="#fff"/>
<rect x="520" y="63" width="3" height="1" fill="#fff"/>
<rect x="520" y="67" width="3" height="1" fill="#fff"/>
<rect x="520" y="70" width="3" height="1" fill="#fff"/>
<rect x="520" y="81" width="3" height="1" fill="#fff"/>
<rect x="520" y="84" width="3" height="1" fill="#fff"/>
<rect x="14" y="443" width="84" height="23" fill="#000"/>
<rect x="96" y="444" width="1" height="3" fill="#fff"/>
<rect x="96" y="451" width="2" height="7" fill="#fff"/>
<rect x="14" y="470" width="84" height="23" fill="#000"/>
<rect x="96" y="471" width="1" height="3" fill="#fff"/>
<rect x="96" y="478" width="2" height="7" fill="#fff"/>
<rect x="14" y="496" width="84" height="23" fill="#000"/>
<rect x="96" y="497" width="1" height="3" fill="#fff"/>
<rect x="96" y="504" width="2" height="7" fill="#fff"/>
<rect x="323" y="161" width="89" height="41" fill="#000"/>
<rect x="328" y="174" width="79" height="15" rx="2.5" fill="#fff" shape-rendering="geometricPrecision"/>
<rect x="409" y="175.5" width="3" height="12" fill="#fff"/>
<rect x="409" y="163" width="1" height="5" fill="#fff"/>
<text transform="translate(334 185.8) scale(0.8 1)" font-size="13" textLength="78.25" lengthAdjust="spacing">BIOS/LOW</text>
<rect x="323" y="209" width="89" height="41" fill="#000"/>
<rect x="328" y="222" width="79" height="15" rx="2.5" fill="#fff" shape-rendering="geometricPrecision"/>
<rect x="409" y="223.5" width="3" height="12" fill="#fff"/>
<rect x="409" y="211" width="1" height="5" fill="#fff"/>
<text transform="translate(331.5 233.8) scale(0.8 1)" font-size="13" textLength="85.00" lengthAdjust="spacing">BIOS/HIGH</text>
<rect x="574" y="19" width="202" height="19" fill="#000"/>
<rect x="582" y="25" width="186" height="6" fill="#fff"/>
<rect x="574" y="63" width="202" height="20" fill="#000"/>
<rect x="582" y="70" width="186" height="6" fill="#fff"/>
<rect x="574" y="107" width="202" height="20" fill="#000"/>
<rect x="582" y="114" width="186" height="6" fill="#fff"/>
<rect x="436" y="107" width="128" height="20" fill="#000"/>
<rect x="443" y="114" width="113" height="6" fill="#fff"/>
<rect x="574" y="151" width="202" height="20" fill="#000"/>
<rect x="582" y="158" width="186" height="6" fill="#fff"/>
<rect x="436" y="151" width="128" height="20" fill="#000"/>
<rect x="443" y="158" width="113" height="6" fill="#fff"/>
<rect x="574" y="194" width="202" height="20" fill="#000"/>
<rect x="582" y="201" width="186" height="6" fill="#fff"/>
<rect x="436" y="194" width="128" height="20" fill="#000"/>
<rect x="443" y="201" width="113" height="6" fill="#fff"/>
<rect x="574" y="239" width="202" height="20" fill="#000"/>
<rect x="582" y="246" width="186" height="6" fill="#fff"/>
<rect x="436" y="239" width="128" height="20" fill="#000"/>
<rect x="443" y="246" width="113" height="6" fill="#fff"/>
<rect x="574" y="283" width="202" height="20" fill="#000"/>
<rect x="582" y="290" width="186" height="6" fill="#fff"/>
<rect x="436" y="283" width="128" height="20" fill="#000"/>
<rect x="443" y="290" width="113" height="6" fill="#fff"/>
<rect x="574" y="328" width="202" height="20" fill="#000"/>
<rect x="582" y="335" width="186" height="6" fill="#fff"/>
<rect x="436" y="328" width="128" height="20" fill="#000"/>
<rect x="443" y="335" width="113" height="6" fill="#fff"/>
<text transform="translate(648.7 54.2) scale(0.85 1)" font-size="12" textLength="50.00" lengthAdjust="spacing">MH<tspan font-size="10.4">0</tspan>493</text>
<rect x="440" y="383" width="278" height="1" fill="#000"/>
<rect x="440" y="398" width="278" height="1" fill="#000"/>
<rect x="440" y="383" width="1" height="16" fill="#000"/>
<rect x="717" y="383" width="1" height="16" fill="#000"/>
<rect x="441" y="387" width="7" height="1" fill="#000"/>
<rect x="441" y="392" width="7" height="1" fill="#000"/>
<rect x="448" y="385" width="1" height="13" fill="#000"/>
<rect x="450" y="385" width="2" height="12" fill="#000"/>
<rect x="452" y="386" width="10" height="1" fill="#000"/>
<rect x="461" y="386" width="1" height="8" fill="#000"/>
<rect x="454" y="393" width="8" height="1" fill="#000"/>
<rect x="454" y="393" width="2" height="2" fill="#000"/>
<rect x="452" y="395" width="3" height="2" fill="#000"/>
<rect x="460" y="393" width="1" height="5" fill="#000"/>
<rect x="463" y="386" width="88" height="11" fill="#000"/>
<rect x="465" y="387" width="1" height="5" fill="#fff"/>
<rect x="467" y="387" width="1" height="5" fill="#fff"/>
<rect x="470" y="387" width="1" height="5" fill="#fff"/>
<rect x="473" y="387" width="1" height="5" fill="#fff"/>
<rect x="475" y="387" width="1" height="5" fill="#fff"/>
<rect x="478" y="387" width="1" height="5" fill="#fff"/>
<rect x="480" y="387" width="1" height="5" fill="#fff"/>
<rect x="483" y="387" width="1" height="5" fill="#fff"/>
<rect x="486" y="387" width="1" height="5" fill="#fff"/>
<rect x="488" y="387" width="1" height="5" fill="#fff"/>
<rect x="491" y="387" width="1" height="5" fill="#fff"/>
<rect x="494" y="387" width="1" height="5" fill="#fff"/>
<rect x="496" y="387" width="1" height="5" fill="#fff"/>
<rect x="499" y="387" width="1" height="5" fill="#fff"/>
<rect x="502" y="387" width="1" height="5" fill="#fff"/>
<rect x="504" y="387" width="1" height="5" fill="#fff"/>
<rect x="507" y="387" width="1" height="5" fill="#fff"/>
<rect x="510" y="387" width="1" height="5" fill="#fff"/>
<rect x="512" y="387" width="1" height="5" fill="#fff"/>
<rect x="515" y="387" width="1" height="5" fill="#fff"/>
<rect x="518" y="387" width="1" height="5" fill="#fff"/>
<rect x="520" y="387" width="1" height="5" fill="#fff"/>
<rect x="523" y="387" width="1" height="5" fill="#fff"/>
<rect x="526" y="387" width="1" height="5" fill="#fff"/>
<rect x="528" y="387" width="1" height="5" fill="#fff"/>
<rect x="531" y="387" width="1" height="5" fill="#fff"/>
<rect x="533" y="387" width="1" height="5" fill="#fff"/>
<rect x="536" y="387" width="1" height="5" fill="#fff"/>
<rect x="539" y="387" width="1" height="5" fill="#fff"/>
<rect x="541" y="387" width="1" height="5" fill="#fff"/>
<rect x="544" y="387" width="1" height="5" fill="#fff"/>
<rect x="547" y="387" width="1" height="5" fill="#fff"/>
<rect x="549" y="387" width="1" height="5" fill="#fff"/>
<rect x="463" y="395" width="1" height="2" fill="#fff"/>
<rect x="710" y="387" width="7" height="1" fill="#000"/>
<rect x="710" y="392" width="7" height="1" fill="#000"/>
<rect x="709" y="385" width="1" height="13" fill="#000"/>
<rect x="706" y="385" width="2" height="12" fill="#000"/>
<rect x="696" y="386" width="10" height="1" fill="#000"/>
<rect x="696" y="386" width="1" height="8" fill="#000"/>
<rect x="696" y="393" width="8" height="1" fill="#000"/>
<rect x="702" y="393" width="2" height="2" fill="#000"/>
<rect x="703" y="395" width="3" height="2" fill="#000"/>
<rect x="697" y="393" width="1" height="5" fill="#000"/>
<rect x="608" y="386" width="87" height="11" fill="#000"/>
<rect x="610" y="387" width="1" height="5" fill="#fff"/>
<rect x="613" y="387" width="1" height="5" fill="#fff"/>
<rect x="616" y="387" width="1" height="5" fill="#fff"/>
<rect x="618" y="387" width="1" height="5" fill="#fff"/>
<rect x="621" y="387" width="1" height="5" fill="#fff"/>
<rect x="624" y="387" width="1" height="5" fill="#fff"/>
<rect x="626" y="387" width="1" height="5" fill="#fff"/>
<rect x="629" y="387" width="1" height="5" fill="#fff"/>
<rect x="632" y="387" width="1" height="5" fill="#fff"/>
<rect x="634" y="387" width="1" height="5" fill="#fff"/>
<rect x="637" y="387" width="1" height="5" fill="#fff"/>
<rect x="640" y="387" width="1" height="5" fill="#fff"/>
<rect x="642" y="387" width="1" height="5" fill="#fff"/>
<rect x="645" y="387" width="1" height="5" fill="#fff"/>
<rect x="647" y="387" width="1" height="5" fill="#fff"/>
<rect x="653" y="387" width="1" height="5" fill="#fff"/>
<rect x="655" y="387" width="1" height="5" fill="#fff"/>
<rect x="658" y="387" width="1" height="5" fill="#fff"/>
<rect x="661" y="387" width="1" height="5" fill="#fff"/>
<rect x="663" y="387" width="1" height="5" fill="#fff"/>
<rect x="666" y="387" width="1" height="5" fill="#fff"/>
<rect x="669" y="387" width="1" height="5" fill="#fff"/>
<rect x="671" y="387" width="1" height="5" fill="#fff"/>
<rect x="674" y="387" width="1" height="5" fill="#fff"/>
<rect x="677" y="387" width="1" height="5" fill="#fff"/>
<rect x="679" y="387" width="1" height="5" fill="#fff"/>
<rect x="682" y="387" width="1" height="5" fill="#fff"/>
<rect x="685" y="387" width="1" height="5" fill="#fff"/>
<rect x="687" y="387" width="1" height="5" fill="#fff"/>
<rect x="690" y="387" width="1" height="5" fill="#fff"/>
<rect x="693" y="387" width="1" height="5" fill="#fff"/>
<rect x="694" y="395" width="1" height="2" fill="#fff"/>
<path d="M554.0 383.0 L603.6 383.0 Q606.6 383.0 606.6 386.0 L606.6 396.0 Q606.6 399.0 603.6 399.0 L554.0 399.0 Q551.0 399.0 551.0 396.0  L551.0 386.0 Q551.0 383.0 554.0 383.0 Z" transform="translate(0.6 0.6)" fill="#fff" stroke="#000" stroke-width="2.0" stroke-linejoin="round" shape-rendering="geometricPrecision"/>
<path d="M554.0 383.0 L603.6 383.0 Q606.6 383.0 606.6 386.0 L606.6 396.0 Q606.6 399.0 603.6 399.0 L554.0 399.0 Q551.0 399.0 551.0 396.0  L551.0 386.0 Q551.0 383.0 554.0 383.0 Z" fill="#fff" stroke="#000" stroke-width="2.0" stroke-linejoin="round" shape-rendering="geometricPrecision"/>
<text transform="translate(553.7 394.8) scale(0.8 1)" font-size="13" textLength="57.12" lengthAdjust="spacing">BANK 3</text>
<rect x="440" y="412" width="278" height="1" fill="#000"/>
<rect x="440" y="427" width="278" height="1" fill="#000"/>
<rect x="440" y="412" width="1" height="16" fill="#000"/>
<rect x="717" y="412" width="1" height="16" fill="#000"/>
<rect x="441" y="416" width="7" height="1" fill="#000"/>
<rect x="441" y="421" width="7" height="1" fill="#000"/>
<rect x="448" y="414" width="1" height="13" fill="#000"/>
<rect x="450" y="414" width="2" height="12" fill="#000"/>
<rect x="452" y="415" width="10" height="1" fill="#000"/>
<rect x="461" y="415" width="1" height="8" fill="#000"/>
<rect x="454" y="422" width="8" height="1" fill="#000"/>
<rect x="454" y="422" width="2" height="2" fill="#000"/>
<rect x="452" y="424" width="3" height="2" fill="#000"/>
<rect x="460" y="422" width="1" height="5" fill="#000"/>
<rect x="463" y="415" width="88" height="11" fill="#000"/>
<rect x="465" y="416" width="1" height="5" fill="#fff"/>
<rect x="467" y="416" width="1" height="5" fill="#fff"/>
<rect x="470" y="416" width="1" height="5" fill="#fff"/>
<rect x="473" y="416" width="1" height="5" fill="#fff"/>
<rect x="475" y="416" width="1" height="5" fill="#fff"/>
<rect x="478" y="416" width="1" height="5" fill="#fff"/>
<rect x="480" y="416" width="1" height="5" fill="#fff"/>
<rect x="483" y="416" width="1" height="5" fill="#fff"/>
<rect x="486" y="416" width="1" height="5" fill="#fff"/>
<rect x="488" y="416" width="1" height="5" fill="#fff"/>
<rect x="491" y="416" width="1" height="5" fill="#fff"/>
<rect x="494" y="416" width="1" height="5" fill="#fff"/>
<rect x="496" y="416" width="1" height="5" fill="#fff"/>
<rect x="499" y="416" width="1" height="5" fill="#fff"/>
<rect x="502" y="416" width="1" height="5" fill="#fff"/>
<rect x="504" y="416" width="1" height="5" fill="#fff"/>
<rect x="507" y="416" width="1" height="5" fill="#fff"/>
<rect x="510" y="416" width="1" height="5" fill="#fff"/>
<rect x="512" y="416" width="1" height="5" fill="#fff"/>
<rect x="515" y="416" width="1" height="5" fill="#fff"/>
<rect x="518" y="416" width="1" height="5" fill="#fff"/>
<rect x="520" y="416" width="1" height="5" fill="#fff"/>
<rect x="523" y="416" width="1" height="5" fill="#fff"/>
<rect x="526" y="416" width="1" height="5" fill="#fff"/>
<rect x="528" y="416" width="1" height="5" fill="#fff"/>
<rect x="531" y="416" width="1" height="5" fill="#fff"/>
<rect x="533" y="416" width="1" height="5" fill="#fff"/>
<rect x="536" y="416" width="1" height="5" fill="#fff"/>
<rect x="539" y="416" width="1" height="5" fill="#fff"/>
<rect x="541" y="416" width="1" height="5" fill="#fff"/>
<rect x="544" y="416" width="1" height="5" fill="#fff"/>
<rect x="547" y="416" width="1" height="5" fill="#fff"/>
<rect x="549" y="416" width="1" height="5" fill="#fff"/>
<rect x="463" y="424" width="1" height="2" fill="#fff"/>
<rect x="710" y="416" width="7" height="1" fill="#000"/>
<rect x="710" y="421" width="7" height="1" fill="#000"/>
<rect x="709" y="414" width="1" height="13" fill="#000"/>
<rect x="706" y="414" width="2" height="12" fill="#000"/>
<rect x="696" y="415" width="10" height="1" fill="#000"/>
<rect x="696" y="415" width="1" height="8" fill="#000"/>
<rect x="696" y="422" width="8" height="1" fill="#000"/>
<rect x="702" y="422" width="2" height="2" fill="#000"/>
<rect x="703" y="424" width="3" height="2" fill="#000"/>
<rect x="697" y="422" width="1" height="5" fill="#000"/>
<rect x="608" y="415" width="87" height="11" fill="#000"/>
<rect x="610" y="416" width="1" height="5" fill="#fff"/>
<rect x="613" y="416" width="1" height="5" fill="#fff"/>
<rect x="616" y="416" width="1" height="5" fill="#fff"/>
<rect x="618" y="416" width="1" height="5" fill="#fff"/>
<rect x="621" y="416" width="1" height="5" fill="#fff"/>
<rect x="624" y="416" width="1" height="5" fill="#fff"/>
<rect x="626" y="416" width="1" height="5" fill="#fff"/>
<rect x="629" y="416" width="1" height="5" fill="#fff"/>
<rect x="632" y="416" width="1" height="5" fill="#fff"/>
<rect x="634" y="416" width="1" height="5" fill="#fff"/>
<rect x="637" y="416" width="1" height="5" fill="#fff"/>
<rect x="640" y="416" width="1" height="5" fill="#fff"/>
<rect x="642" y="416" width="1" height="5" fill="#fff"/>
<rect x="645" y="416" width="1" height="5" fill="#fff"/>
<rect x="647" y="416" width="1" height="5" fill="#fff"/>
<rect x="653" y="416" width="1" height="5" fill="#fff"/>
<rect x="655" y="416" width="1" height="5" fill="#fff"/>
<rect x="658" y="416" width="1" height="5" fill="#fff"/>
<rect x="661" y="416" width="1" height="5" fill="#fff"/>
<rect x="663" y="416" width="1" height="5" fill="#fff"/>
<rect x="666" y="416" width="1" height="5" fill="#fff"/>
<rect x="669" y="416" width="1" height="5" fill="#fff"/>
<rect x="671" y="416" width="1" height="5" fill="#fff"/>
<rect x="674" y="416" width="1" height="5" fill="#fff"/>
<rect x="677" y="416" width="1" height="5" fill="#fff"/>
<rect x="679" y="416" width="1" height="5" fill="#fff"/>
<rect x="682" y="416" width="1" height="5" fill="#fff"/>
<rect x="685" y="416" width="1" height="5" fill="#fff"/>
<rect x="687" y="416" width="1" height="5" fill="#fff"/>
<rect x="690" y="416" width="1" height="5" fill="#fff"/>
<rect x="693" y="416" width="1" height="5" fill="#fff"/>
<rect x="694" y="424" width="1" height="2" fill="#fff"/>
<path d="M554.0 411.2 L603.6 411.2 Q606.6 411.2 606.6 414.2 L606.6 423.79999999999995 Q606.6 426.79999999999995 603.6 426.79999999999995 L554.0 426.79999999999995 Q551.0 426.79999999999995 551.0 423.79999999999995  L551.0 414.2 Q551.0 411.2 554.0 411.2 Z" transform="translate(0.6 0.6)" fill="#fff" stroke="#000" stroke-width="2.0" stroke-linejoin="round" shape-rendering="geometricPrecision"/>
<path d="M554.0 411.2 L603.6 411.2 Q606.6 411.2 606.6 414.2 L606.6 423.79999999999995 Q606.6 426.79999999999995 603.6 426.79999999999995 L554.0 426.79999999999995 Q551.0 426.79999999999995 551.0 423.79999999999995  L551.0 414.2 Q551.0 411.2 554.0 411.2 Z" fill="#fff" stroke="#000" stroke-width="2.0" stroke-linejoin="round" shape-rendering="geometricPrecision"/>
<text transform="translate(553.7 422.6) scale(0.8 1)" font-size="13" textLength="57.12" lengthAdjust="spacing">BANK 2</text>
<rect x="440" y="440" width="278" height="1" fill="#000"/>
<rect x="440" y="455" width="278" height="1" fill="#000"/>
<rect x="440" y="440" width="1" height="16" fill="#000"/>
<rect x="717" y="440" width="1" height="16" fill="#000"/>
<rect x="441" y="444" width="7" height="1" fill="#000"/>
<rect x="441" y="449" width="7" height="1" fill="#000"/>
<rect x="448" y="442" width="1" height="13" fill="#000"/>
<rect x="450" y="442" width="2" height="12" fill="#000"/>
<rect x="452" y="443" width="10" height="1" fill="#000"/>
<rect x="461" y="443" width="1" height="8" fill="#000"/>
<rect x="454" y="450" width="8" height="1" fill="#000"/>
<rect x="454" y="450" width="2" height="2" fill="#000"/>
<rect x="452" y="452" width="3" height="2" fill="#000"/>
<rect x="460" y="450" width="1" height="5" fill="#000"/>
<rect x="463" y="443" width="88" height="11" fill="#000"/>
<rect x="465" y="444" width="1" height="5" fill="#fff"/>
<rect x="467" y="444" width="1" height="5" fill="#fff"/>
<rect x="470" y="444" width="1" height="5" fill="#fff"/>
<rect x="473" y="444" width="1" height="5" fill="#fff"/>
<rect x="475" y="444" width="1" height="5" fill="#fff"/>
<rect x="478" y="444" width="1" height="5" fill="#fff"/>
<rect x="480" y="444" width="1" height="5" fill="#fff"/>
<rect x="483" y="444" width="1" height="5" fill="#fff"/>
<rect x="486" y="444" width="1" height="5" fill="#fff"/>
<rect x="488" y="444" width="1" height="5" fill="#fff"/>
<rect x="491" y="444" width="1" height="5" fill="#fff"/>
<rect x="494" y="444" width="1" height="5" fill="#fff"/>
<rect x="496" y="444" width="1" height="5" fill="#fff"/>
<rect x="499" y="444" width="1" height="5" fill="#fff"/>
<rect x="502" y="444" width="1" height="5" fill="#fff"/>
<rect x="504" y="444" width="1" height="5" fill="#fff"/>
<rect x="507" y="444" width="1" height="5" fill="#fff"/>
<rect x="510" y="444" width="1" height="5" fill="#fff"/>
<rect x="512" y="444" width="1" height="5" fill="#fff"/>
<rect x="515" y="444" width="1" height="5" fill="#fff"/>
<rect x="518" y="444" width="1" height="5" fill="#fff"/>
<rect x="520" y="444" width="1" height="5" fill="#fff"/>
<rect x="523" y="444" width="1" height="5" fill="#fff"/>
<rect x="526" y="444" width="1" height="5" fill="#fff"/>
<rect x="528" y="444" width="1" height="5" fill="#fff"/>
<rect x="531" y="444" width="1" height="5" fill="#fff"/>
<rect x="533" y="444" width="1" height="5" fill="#fff"/>
<rect x="536" y="444" width="1" height="5" fill="#fff"/>
<rect x="539" y="444" width="1" height="5" fill="#fff"/>
<rect x="541" y="444" width="1" height="5" fill="#fff"/>
<rect x="544" y="444" width="1" height="5" fill="#fff"/>
<rect x="547" y="444" width="1" height="5" fill="#fff"/>
<rect x="549" y="444" width="1" height="5" fill="#fff"/>
<rect x="463" y="452" width="1" height="2" fill="#fff"/>
<rect x="710" y="444" width="7" height="1" fill="#000"/>
<rect x="710" y="449" width="7" height="1" fill="#000"/>
<rect x="709" y="442" width="1" height="13" fill="#000"/>
<rect x="706" y="442" width="2" height="12" fill="#000"/>
<rect x="696" y="443" width="10" height="1" fill="#000"/>
<rect x="696" y="443" width="1" height="8" fill="#000"/>
<rect x="696" y="450" width="8" height="1" fill="#000"/>
<rect x="702" y="450" width="2" height="2" fill="#000"/>
<rect x="703" y="452" width="3" height="2" fill="#000"/>
<rect x="697" y="450" width="1" height="5" fill="#000"/>
<rect x="608" y="443" width="87" height="11" fill="#000"/>
<rect x="610" y="444" width="1" height="5" fill="#fff"/>
<rect x="613" y="444" width="1" height="5" fill="#fff"/>
<rect x="616" y="444" width="1" height="5" fill="#fff"/>
<rect x="618" y="444" width="1" height="5" fill="#fff"/>
<rect x="621" y="444" width="1" height="5" fill="#fff"/>
<rect x="624" y="444" width="1" height="5" fill="#fff"/>
<rect x="626" y="444" width="1" height="5" fill="#fff"/>
<rect x="629" y="444" width="1" height="5" fill="#fff"/>
<rect x="632" y="444" width="1" height="5" fill="#fff"/>
<rect x="634" y="444" width="1" height="5" fill="#fff"/>
<rect x="637" y="444" width="1" height="5" fill="#fff"/>
<rect x="640" y="444" width="1" height="5" fill="#fff"/>
<rect x="642" y="444" width="1" height="5" fill="#fff"/>
<rect x="645" y="444" width="1" height="5" fill="#fff"/>
<rect x="647" y="444" width="1" height="5" fill="#fff"/>
<rect x="653" y="444" width="1" height="5" fill="#fff"/>
<rect x="655" y="444" width="1" height="5" fill="#fff"/>
<rect x="658" y="444" width="1" height="5" fill="#fff"/>
<rect x="661" y="444" width="1" height="5" fill="#fff"/>
<rect x="663" y="444" width="1" height="5" fill="#fff"/>
<rect x="666" y="444" width="1" height="5" fill="#fff"/>
<rect x="669" y="444" width="1" height="5" fill="#fff"/>
<rect x="671" y="444" width="1" height="5" fill="#fff"/>
<rect x="674" y="444" width="1" height="5" fill="#fff"/>
<rect x="677" y="444" width="1" height="5" fill="#fff"/>
<rect x="679" y="444" width="1" height="5" fill="#fff"/>
<rect x="682" y="444" width="1" height="5" fill="#fff"/>
<rect x="685" y="444" width="1" height="5" fill="#fff"/>
<rect x="687" y="444" width="1" height="5" fill="#fff"/>
<rect x="690" y="444" width="1" height="5" fill="#fff"/>
<rect x="693" y="444" width="1" height="5" fill="#fff"/>
<rect x="694" y="452" width="1" height="2" fill="#fff"/>
<path d="M554.0 439.9 L603.6 439.9 Q606.6 439.9 606.6 442.9 L606.6 453.09999999999997 Q606.6 456.09999999999997 603.6 456.09999999999997 L554.0 456.09999999999997 Q551.0 456.09999999999997 551.0 453.09999999999997  L551.0 442.9 Q551.0 439.9 554.0 439.9 Z" transform="translate(0.6 0.6)" fill="#fff" stroke="#000" stroke-width="2.0" stroke-linejoin="round" shape-rendering="geometricPrecision"/>
<path d="M554.0 439.9 L603.6 439.9 Q606.6 439.9 606.6 442.9 L606.6 453.09999999999997 Q606.6 456.09999999999997 603.6 456.09999999999997 L554.0 456.09999999999997 Q551.0 456.09999999999997 551.0 453.09999999999997  L551.0 442.9 Q551.0 439.9 554.0 439.9 Z" fill="#fff" stroke="#000" stroke-width="2.0" stroke-linejoin="round" shape-rendering="geometricPrecision"/>
<text transform="translate(553.7 451.6) scale(0.8 1)" font-size="13" textLength="57.12" lengthAdjust="spacing">BANK 1</text>
<rect x="440" y="469" width="278" height="1" fill="#000"/>
<rect x="440" y="484" width="278" height="1" fill="#000"/>
<rect x="440" y="469" width="1" height="16" fill="#000"/>
<rect x="717" y="469" width="1" height="16" fill="#000"/>
<rect x="441" y="473" width="7" height="1" fill="#000"/>
<rect x="441" y="478" width="7" height="1" fill="#000"/>
<rect x="448" y="471" width="1" height="13" fill="#000"/>
<rect x="450" y="471" width="2" height="12" fill="#000"/>
<rect x="452" y="472" width="10" height="1" fill="#000"/>
<rect x="461" y="472" width="1" height="8" fill="#000"/>
<rect x="454" y="479" width="8" height="1" fill="#000"/>
<rect x="454" y="479" width="2" height="2" fill="#000"/>
<rect x="452" y="481" width="3" height="2" fill="#000"/>
<rect x="460" y="479" width="1" height="5" fill="#000"/>
<rect x="463" y="472" width="88" height="11" fill="#000"/>
<rect x="465" y="473" width="1" height="5" fill="#fff"/>
<rect x="467" y="473" width="1" height="5" fill="#fff"/>
<rect x="470" y="473" width="1" height="5" fill="#fff"/>
<rect x="473" y="473" width="1" height="5" fill="#fff"/>
<rect x="475" y="473" width="1" height="5" fill="#fff"/>
<rect x="478" y="473" width="1" height="5" fill="#fff"/>
<rect x="480" y="473" width="1" height="5" fill="#fff"/>
<rect x="483" y="473" width="1" height="5" fill="#fff"/>
<rect x="486" y="473" width="1" height="5" fill="#fff"/>
<rect x="488" y="473" width="1" height="5" fill="#fff"/>
<rect x="491" y="473" width="1" height="5" fill="#fff"/>
<rect x="494" y="473" width="1" height="5" fill="#fff"/>
<rect x="496" y="473" width="1" height="5" fill="#fff"/>
<rect x="499" y="473" width="1" height="5" fill="#fff"/>
<rect x="502" y="473" width="1" height="5" fill="#fff"/>
<rect x="504" y="473" width="1" height="5" fill="#fff"/>
<rect x="507" y="473" width="1" height="5" fill="#fff"/>
<rect x="510" y="473" width="1" height="5" fill="#fff"/>
<rect x="512" y="473" width="1" height="5" fill="#fff"/>
<rect x="515" y="473" width="1" height="5" fill="#fff"/>
<rect x="518" y="473" width="1" height="5" fill="#fff"/>
<rect x="520" y="473" width="1" height="5" fill="#fff"/>
<rect x="523" y="473" width="1" height="5" fill="#fff"/>
<rect x="526" y="473" width="1" height="5" fill="#fff"/>
<rect x="528" y="473" width="1" height="5" fill="#fff"/>
<rect x="531" y="473" width="1" height="5" fill="#fff"/>
<rect x="533" y="473" width="1" height="5" fill="#fff"/>
<rect x="536" y="473" width="1" height="5" fill="#fff"/>
<rect x="539" y="473" width="1" height="5" fill="#fff"/>
<rect x="541" y="473" width="1" height="5" fill="#fff"/>
<rect x="544" y="473" width="1" height="5" fill="#fff"/>
<rect x="547" y="473" width="1" height="5" fill="#fff"/>
<rect x="549" y="473" width="1" height="5" fill="#fff"/>
<rect x="463" y="481" width="1" height="2" fill="#fff"/>
<rect x="710" y="473" width="7" height="1" fill="#000"/>
<rect x="710" y="478" width="7" height="1" fill="#000"/>
<rect x="709" y="471" width="1" height="13" fill="#000"/>
<rect x="706" y="471" width="2" height="12" fill="#000"/>
<rect x="696" y="472" width="10" height="1" fill="#000"/>
<rect x="696" y="472" width="1" height="8" fill="#000"/>
<rect x="696" y="479" width="8" height="1" fill="#000"/>
<rect x="702" y="479" width="2" height="2" fill="#000"/>
<rect x="703" y="481" width="3" height="2" fill="#000"/>
<rect x="697" y="479" width="1" height="5" fill="#000"/>
<rect x="608" y="472" width="87" height="11" fill="#000"/>
<rect x="610" y="473" width="1" height="5" fill="#fff"/>
<rect x="613" y="473" width="1" height="5" fill="#fff"/>
<rect x="616" y="473" width="1" height="5" fill="#fff"/>
<rect x="618" y="473" width="1" height="5" fill="#fff"/>
<rect x="621" y="473" width="1" height="5" fill="#fff"/>
<rect x="624" y="473" width="1" height="5" fill="#fff"/>
<rect x="626" y="473" width="1" height="5" fill="#fff"/>
<rect x="629" y="473" width="1" height="5" fill="#fff"/>
<rect x="632" y="473" width="1" height="5" fill="#fff"/>
<rect x="634" y="473" width="1" height="5" fill="#fff"/>
<rect x="637" y="473" width="1" height="5" fill="#fff"/>
<rect x="640" y="473" width="1" height="5" fill="#fff"/>
<rect x="642" y="473" width="1" height="5" fill="#fff"/>
<rect x="645" y="473" width="1" height="5" fill="#fff"/>
<rect x="647" y="473" width="1" height="5" fill="#fff"/>
<rect x="653" y="473" width="1" height="5" fill="#fff"/>
<rect x="655" y="473" width="1" height="5" fill="#fff"/>
<rect x="658" y="473" width="1" height="5" fill="#fff"/>
<rect x="661" y="473" width="1" height="5" fill="#fff"/>
<rect x="663" y="473" width="1" height="5" fill="#fff"/>
<rect x="666" y="473" width="1" height="5" fill="#fff"/>
<rect x="669" y="473" width="1" height="5" fill="#fff"/>
<rect x="671" y="473" width="1" height="5" fill="#fff"/>
<rect x="674" y="473" width="1" height="5" fill="#fff"/>
<rect x="677" y="473" width="1" height="5" fill="#fff"/>
<rect x="679" y="473" width="1" height="5" fill="#fff"/>
<rect x="682" y="473" width="1" height="5" fill="#fff"/>
<rect x="685" y="473" width="1" height="5" fill="#fff"/>
<rect x="687" y="473" width="1" height="5" fill="#fff"/>
<rect x="690" y="473" width="1" height="5" fill="#fff"/>
<rect x="693" y="473" width="1" height="5" fill="#fff"/>
<rect x="694" y="481" width="1" height="2" fill="#fff"/>
<path d="M554.0 468.2 L603.6 468.2 Q606.6 468.2 606.6 471.2 L606.6 481.4 Q606.6 484.4 603.6 484.4 L554.0 484.4 Q551.0 484.4 551.0 481.4  L551.0 471.2 Q551.0 468.2 554.0 468.2 Z" transform="translate(0.6 0.6)" fill="#fff" stroke="#000" stroke-width="2.0" stroke-linejoin="round" shape-rendering="geometricPrecision"/>
<path d="M554.0 468.2 L603.6 468.2 Q606.6 468.2 606.6 471.2 L606.6 481.4 Q606.6 484.4 603.6 484.4 L554.0 484.4 Q551.0 484.4 551.0 481.4  L551.0 471.2 Q551.0 468.2 554.0 468.2 Z" fill="#fff" stroke="#000" stroke-width="2.0" stroke-linejoin="round" shape-rendering="geometricPrecision"/>
<text transform="translate(553.7 479.3) scale(0.8 1)" font-size="13" textLength="57.12" lengthAdjust="spacing">BANK <tspan font-size="10.8">0</tspan></text>
<rect x="722" y="358" width="43" height="127" fill="#000"/>
<path d="M737 358 L750 358 L748.5 360 L738.5 360 Z" fill="#fff" stroke="none" stroke-width="1" shape-rendering="geometricPrecision"/>
<rect x="724" y="361" width="1" height="3" fill="#fff"/>
<rect x="762" y="361" width="1" height="3" fill="#fff"/>
<rect x="724" y="367" width="1" height="3" fill="#fff"/>
<rect x="762" y="367" width="1" height="3" fill="#fff"/>
<rect x="724" y="372" width="1" height="3" fill="#fff"/>
<rect x="762" y="372" width="1" height="3" fill="#fff"/>
<rect x="724" y="378" width="1" height="3" fill="#fff"/>
<rect x="762" y="378" width="1" height="3" fill="#fff"/>
<rect x="724" y="384" width="1" height="3" fill="#fff"/>
<rect x="762" y="384" width="1" height="3" fill="#fff"/>
<rect x="724" y="390" width="1" height="3" fill="#fff"/>
<rect x="762" y="390" width="1" height="3" fill="#fff"/>
<rect x="724" y="396" width="1" height="3" fill="#fff"/>
<rect x="762" y="396" width="1" height="3" fill="#fff"/>
<rect x="724" y="402" width="1" height="3" fill="#fff"/>
<rect x="762" y="402" width="1" height="3" fill="#fff"/>
<rect x="724" y="408" width="1" height="3" fill="#fff"/>
<rect x="762" y="408" width="1" height="3" fill="#fff"/>
<rect x="724" y="414" width="1" height="3" fill="#fff"/>
<rect x="762" y="414" width="1" height="3" fill="#fff"/>
<rect x="724" y="420" width="1" height="3" fill="#fff"/>
<rect x="762" y="420" width="1" height="3" fill="#fff"/>
<rect x="724" y="426" width="1" height="3" fill="#fff"/>
<rect x="762" y="426" width="1" height="3" fill="#fff"/>
<rect x="724" y="432" width="1" height="3" fill="#fff"/>
<rect x="762" y="432" width="1" height="3" fill="#fff"/>
<rect x="724" y="438" width="1" height="3" fill="#fff"/>
<rect x="762" y="438" width="1" height="3" fill="#fff"/>
<rect x="724" y="444" width="1" height="3" fill="#fff"/>
<rect x="762" y="444" width="1" height="3" fill="#fff"/>
<rect x="724" y="450" width="1" height="3" fill="#fff"/>
<rect x="762" y="450" width="1" height="3" fill="#fff"/>
<rect x="724" y="456" width="1" height="3" fill="#fff"/>
<rect x="762" y="456" width="1" height="3" fill="#fff"/>
<rect x="724" y="462" width="1" height="3" fill="#fff"/>
<rect x="762" y="462" width="1" height="3" fill="#fff"/>
<rect x="724" y="468" width="1" height="3" fill="#fff"/>
<rect x="762" y="468" width="1" height="3" fill="#fff"/>
<rect x="724" y="474" width="1" height="3" fill="#fff"/>
<rect x="762" y="474" width="1" height="3" fill="#fff"/>
<rect x="724" y="480" width="1" height="3" fill="#fff"/>
<rect x="762" y="480" width="1" height="3" fill="#fff"/>
<rect x="729" y="414" width="28" height="14.5" rx="2.5" fill="#fff" shape-rendering="geometricPrecision"/>
<text transform="translate(731.7 424.3) scale(0.8 1)" font-size="13" textLength="29.75" lengthAdjust="spacing">KBD</text>
<rect x="796" y="444" width="25" height="38" fill="#000"/>
<rect x="820" y="440" width="3" height="46" fill="#000"/>
<rect x="823" y="438" width="4" height="50" fill="#000"/>
<rect x="789" y="453" width="6" height="9" fill="#000"/>
<rect x="790" y="454" width="4" height="7" fill="#fff"/>
<rect x="789" y="464" width="6" height="9" fill="#000"/>
<rect x="790" y="465" width="4" height="7" fill="#fff"/>
<rect x="793" y="451" width="3" height="24" fill="#000"/>
<rect x="794" y="452" width="2" height="8" fill="#fff"/>
<rect x="794" y="465" width="2" height="8" fill="#fff"/>
<rect x="795" y="455" width="1" height="1" fill="#000"/>
<rect x="795" y="457" width="1" height="1" fill="#000"/>
<rect x="795" y="459" width="1" height="1" fill="#000"/>
<rect x="795" y="467" width="1" height="1" fill="#000"/>
<rect x="795" y="469" width="1" height="1" fill="#000"/>
<rect x="795" y="471" width="1" height="1" fill="#000"/>
<rect x="581" y="492" width="113" height="24" fill="#000"/>
<rect x="582" y="493" width="111" height="22" fill="#fff"/>
<rect x="581" y="499" width="113" height="1" fill="#000"/>
<rect x="584" y="506" width="107" height="1" fill="#000"/>
<rect x="583" y="496" width="7" height="2" fill="#000"/>
<rect x="585" y="495" width="3" height="1" fill="#000"/>
<rect x="585" y="498" width="3" height="1" fill="#000"/>
<rect x="583" y="502" width="7" height="3" fill="#000"/>
<rect x="584" y="503" width="5" height="1" fill="#fff"/>
<rect x="587" y="506" width="7" height="7" fill="#000"/>
<rect x="588" y="507" width="5" height="5" fill="#fff"/>
<rect x="592" y="496" width="7" height="2" fill="#000"/>
<rect x="594" y="495" width="3" height="1" fill="#000"/>
<rect x="594" y="498" width="3" height="1" fill="#000"/>
<rect x="592" y="502" width="7" height="3" fill="#000"/>
<rect x="593" y="503" width="5" height="1" fill="#fff"/>
<rect x="596" y="506" width="7" height="7" fill="#000"/>
<rect x="597" y="507" width="5" height="5" fill="#fff"/>
<rect x="601" y="496" width="7" height="2" fill="#000"/>
<rect x="603" y="495" width="3" height="1" fill="#000"/>
<rect x="603" y="498" width="3" height="1" fill="#000"/>
<rect x="601" y="502" width="7" height="3" fill="#000"/>
<rect x="602" y="503" width="5" height="1" fill="#fff"/>
<rect x="605" y="506" width="7" height="7" fill="#000"/>
<rect x="606" y="507" width="5" height="5" fill="#fff"/>
<rect x="611" y="496" width="7" height="2" fill="#000"/>
<rect x="613" y="495" width="3" height="1" fill="#000"/>
<rect x="613" y="498" width="3" height="1" fill="#000"/>
<rect x="611" y="502" width="7" height="3" fill="#000"/>
<rect x="612" y="503" width="5" height="1" fill="#fff"/>
<rect x="615" y="506" width="7" height="7" fill="#000"/>
<rect x="616" y="507" width="5" height="5" fill="#fff"/>
<rect x="620" y="496" width="7" height="2" fill="#000"/>
<rect x="622" y="495" width="3" height="1" fill="#000"/>
<rect x="622" y="498" width="3" height="1" fill="#000"/>
<rect x="620" y="502" width="7" height="3" fill="#000"/>
<rect x="621" y="503" width="5" height="1" fill="#fff"/>
<rect x="624" y="506" width="7" height="7" fill="#000"/>
<rect x="625" y="507" width="5" height="5" fill="#fff"/>
<rect x="629" y="496" width="7" height="2" fill="#000"/>
<rect x="631" y="495" width="3" height="1" fill="#000"/>
<rect x="631" y="498" width="3" height="1" fill="#000"/>
<rect x="629" y="502" width="7" height="3" fill="#000"/>
<rect x="630" y="503" width="5" height="1" fill="#fff"/>
<rect x="633" y="506" width="7" height="7" fill="#000"/>
<rect x="634" y="507" width="5" height="5" fill="#fff"/>
<rect x="638" y="496" width="7" height="2" fill="#000"/>
<rect x="640" y="495" width="3" height="1" fill="#000"/>
<rect x="640" y="498" width="3" height="1" fill="#000"/>
<rect x="638" y="502" width="7" height="3" fill="#000"/>
<rect x="639" y="503" width="5" height="1" fill="#fff"/>
<rect x="642" y="506" width="7" height="7" fill="#000"/>
<rect x="643" y="507" width="5" height="5" fill="#fff"/>
<rect x="647" y="496" width="7" height="2" fill="#000"/>
<rect x="649" y="495" width="3" height="1" fill="#000"/>
<rect x="649" y="498" width="3" height="1" fill="#000"/>
<rect x="647" y="502" width="7" height="3" fill="#000"/>
<rect x="648" y="503" width="5" height="1" fill="#fff"/>
<rect x="651" y="506" width="7" height="7" fill="#000"/>
<rect x="652" y="507" width="5" height="5" fill="#fff"/>
<rect x="657" y="496" width="7" height="2" fill="#000"/>
<rect x="659" y="495" width="3" height="1" fill="#000"/>
<rect x="659" y="498" width="3" height="1" fill="#000"/>
<rect x="657" y="502" width="7" height="3" fill="#000"/>
<rect x="658" y="503" width="5" height="1" fill="#fff"/>
<rect x="661" y="506" width="7" height="7" fill="#000"/>
<rect x="662" y="507" width="5" height="5" fill="#fff"/>
<rect x="666" y="496" width="7" height="2" fill="#000"/>
<rect x="668" y="495" width="3" height="1" fill="#000"/>
<rect x="668" y="498" width="3" height="1" fill="#000"/>
<rect x="666" y="502" width="7" height="3" fill="#000"/>
<rect x="667" y="503" width="5" height="1" fill="#fff"/>
<rect x="670" y="506" width="7" height="7" fill="#000"/>
<rect x="671" y="507" width="5" height="5" fill="#fff"/>
<rect x="675" y="496" width="7" height="2" fill="#000"/>
<rect x="677" y="495" width="3" height="1" fill="#000"/>
<rect x="677" y="498" width="3" height="1" fill="#000"/>
<rect x="675" y="502" width="7" height="3" fill="#000"/>
<rect x="676" y="503" width="5" height="1" fill="#fff"/>
<rect x="679" y="506" width="7" height="7" fill="#000"/>
<rect x="680" y="507" width="5" height="5" fill="#fff"/>
<rect x="684" y="496" width="7" height="2" fill="#000"/>
<rect x="686" y="495" width="3" height="1" fill="#000"/>
<rect x="686" y="498" width="3" height="1" fill="#000"/>
<rect x="684" y="502" width="7" height="3" fill="#000"/>
<rect x="685" y="503" width="5" height="1" fill="#fff"/>
<rect x="688" y="506" width="7" height="7" fill="#000"/>
<rect x="689" y="507" width="5" height="5" fill="#fff"/>
<rect x="581" y="507" width="3" height="2" fill="#000"/>
<rect x="581" y="511" width="3" height="2" fill="#000"/>
<rect x="583" y="507" width="1" height="6" fill="#000"/>
<rect x="690" y="507" width="3" height="2" fill="#000"/>
<rect x="690" y="511" width="3" height="2" fill="#000"/>
<rect x="690" y="507" width="1" height="6" fill="#000"/>
<rect x="30" y="78" width="13" height="7" fill="#000"/>
<rect x="32" y="79" width="10" height="1" fill="#fff"/>
<rect x="36" y="79" width="1" height="5" fill="#fff"/>
<rect x="41" y="79" width="1" height="5" fill="#fff"/>
<rect x="12" y="108" width="31" height="7" fill="#000"/>
<rect x="13" y="109" width="6" height="5" fill="#fff"/>
<rect x="15" y="110" width="3" height="3" fill="#000"/>
<rect x="24" y="110" width="2" height="4" fill="#fff"/>
<rect x="30" y="110" width="1" height="4" fill="#fff"/>
<rect x="36" y="110" width="1" height="4" fill="#fff"/>
<rect x="17" y="123" width="26" height="6" fill="#000"/>
<rect x="18" y="124" width="6" height="4" fill="#fff"/>
<rect x="21" y="125" width="2" height="2" fill="#000"/>
<rect x="27" y="124" width="2" height="4" fill="#fff"/>
<rect x="33" y="124" width="2" height="4" fill="#fff"/>
<rect x="40" y="124" width="1" height="4" fill="#fff"/>
<rect x="30" y="167" width="13" height="6" fill="#000"/>
<rect x="36" y="168" width="1" height="4" fill="#fff"/>
<rect x="40" y="168" width="1" height="4" fill="#fff"/>
<rect x="30" y="188" width="13" height="7" fill="#000"/>
<rect x="31" y="193" width="11" height="1" fill="#fff"/>
<rect x="36" y="189" width="1" height="4" fill="#fff"/>
<rect x="41" y="189" width="1" height="4" fill="#fff"/>
<rect x="71" y="325" width="7" height="14" fill="#000"/>
<rect x="72" y="326" width="5" height="1" fill="#fff"/>
<rect x="72" y="331" width="5" height="1" fill="#fff"/>
<rect x="72" y="337" width="5" height="1" fill="#fff"/>
<rect x="71" y="340" width="7" height="14" fill="#000"/>
<rect x="72" y="341" width="5" height="1" fill="#fff"/>
<rect x="72" y="347" width="5" height="1" fill="#fff"/>
<rect x="72" y="352" width="5" height="1" fill="#fff"/>
<rect x="717" y="500" width="14" height="7" fill="#000"/>
<rect x="718" y="501" width="1" height="5" fill="#fff"/>
<rect x="723" y="501" width="1" height="5" fill="#fff"/>
<rect x="729" y="501" width="1" height="5" fill="#fff"/>
<rect x="712" y="509" width="19" height="7" fill="#000"/>
<rect x="713" y="510" width="17" height="1" fill="#fff"/>
<rect x="717" y="510" width="2" height="5" fill="#fff"/>
<rect x="723" y="510" width="1" height="5" fill="#fff"/>
<rect x="729" y="510" width="1" height="5" fill="#fff"/>
<rect x="725" y="512" width="3" height="2" fill="#fff"/>
<rect x="494" y="510" width="26" height="7" fill="#000"/>
<rect x="495" y="511" width="6" height="5" fill="#fff"/>
<rect x="497" y="512" width="3" height="3" fill="#000"/>
<rect x="504" y="511" width="2" height="5" fill="#fff"/>
<rect x="509" y="511" width="2" height="5" fill="#fff"/>
<rect x="515" y="511" width="1" height="5" fill="#fff"/>
<path d="M62.5 74.0 L90.30000000000001 74.0 Q92.80000000000001 74.0 92.80000000000001 76.5 L92.80000000000001 86.5 Q92.80000000000001 89.0 90.30000000000001 89.0 L62.5 89.0 Q60.0 89.0 60.0 86.5 L60.0 84.60000000000001 L58.5 84.60000000000001 L52.3 82.4 L44.3 82.10000000000001 L44.3 81.3 L52.3 81.0 L58.5 78.8 L60.0 78.8 L60.0 76.5 Q60.0 74.0 62.5 74.0 Z" transform="translate(0.6 0.6)" fill="#fff" stroke="#000" stroke-width="2.0" stroke-linejoin="round" shape-rendering="geometricPrecision"/>
<path d="M62.5 74.0 L90.30000000000001 74.0 Q92.80000000000001 74.0 92.80000000000001 76.5 L92.80000000000001 86.5 Q92.80000000000001 89.0 90.30000000000001 89.0 L62.5 89.0 Q60.0 89.0 60.0 86.5 L60.0 84.60000000000001 L58.5 84.60000000000001 L52.3 82.4 L44.3 82.10000000000001 L44.3 81.3 L52.3 81.0 L58.5 78.8 L60.0 78.8 L60.0 76.5 Q60.0 74.0 62.5 74.0 Z" fill="#fff" stroke="#000" stroke-width="2.0" stroke-linejoin="round" shape-rendering="geometricPrecision"/>
<text transform="translate(64.8 85.8) scale(0.8 1)" font-size="13" textLength="25.62" lengthAdjust="spacing">J13</text>
<path d="M62.5 103.1 L90.30000000000001 103.1 Q92.80000000000001 103.1 92.80000000000001 105.6 L92.80000000000001 116.60000000000001 Q92.80000000000001 119.10000000000001 90.30000000000001 119.10000000000001 L62.5 119.10000000000001 Q60.0 119.10000000000001 60.0 116.60000000000001 L60.0 114.30000000000001 L58.5 114.30000000000001 L52.3 112.10000000000001 L44.3 111.80000000000001 L44.3 111.0 L52.3 110.7 L58.5 108.5 L60.0 108.5 L60.0 105.6 Q60.0 103.1 62.5 103.1 Z" transform="translate(0.6 0.6)" fill="#fff" stroke="#000" stroke-width="2.0" stroke-linejoin="round" shape-rendering="geometricPrecision"/>
<path d="M62.5 103.1 L90.30000000000001 103.1 Q92.80000000000001 103.1 92.80000000000001 105.6 L92.80000000000001 116.60000000000001 Q92.80000000000001 119.10000000000001 90.30000000000001 119.10000000000001 L62.5 119.10000000000001 Q60.0 119.10000000000001 60.0 116.60000000000001 L60.0 114.30000000000001 L58.5 114.30000000000001 L52.3 112.10000000000001 L44.3 111.80000000000001 L44.3 111.0 L52.3 110.7 L58.5 108.5 L60.0 108.5 L60.0 105.6 Q60.0 103.1 62.5 103.1 Z" fill="#fff" stroke="#000" stroke-width="2.0" stroke-linejoin="round" shape-rendering="geometricPrecision"/>
<text transform="translate(65.6 114.7) scale(0.8 1)" font-size="13" textLength="24.63" lengthAdjust="spacing">J16</text>
<path d="M53.5 133.0 L80.9 133.0 Q83.4 133.0 83.4 135.5 L83.4 146.70000000000002 Q83.4 149.20000000000002 80.9 149.20000000000002 L53.5 149.20000000000002 Q51.0 149.20000000000002 51.0 146.70000000000002  L51.0 137.5 L44.5 125.5 L55.5 133.0 Z" transform="translate(0.6 0.6)" fill="#fff" stroke="#000" stroke-width="2.0" stroke-linejoin="round" shape-rendering="geometricPrecision"/>
<path d="M53.5 133.0 L80.9 133.0 Q83.4 133.0 83.4 135.5 L83.4 146.70000000000002 Q83.4 149.20000000000002 80.9 149.20000000000002 L53.5 149.20000000000002 Q51.0 149.20000000000002 51.0 146.70000000000002  L51.0 137.5 L44.5 125.5 L55.5 133.0 Z" fill="#fff" stroke="#000" stroke-width="2.0" stroke-linejoin="round" shape-rendering="geometricPrecision"/>
<text transform="translate(55.7 145.7) scale(0.8 1)" font-size="13" textLength="26.12" lengthAdjust="spacing">J15</text>
<path d="M63.5 162.1 L91.60000000000001 162.1 Q94.10000000000001 162.1 94.10000000000001 164.6 L94.10000000000001 174.70000000000002 Q94.10000000000001 177.20000000000002 91.60000000000001 177.20000000000002 L63.5 177.20000000000002 Q61.0 177.20000000000002 61.0 174.70000000000002 L61.0 172.9 L59.5 172.9 L52.3 170.7 L44.3 170.4 L44.3 169.6 L52.3 169.3 L59.5 167.1 L61.0 167.1 L61.0 164.6 Q61.0 162.1 63.5 162.1 Z" transform="translate(0.6 0.6)" fill="#fff" stroke="#000" stroke-width="2.0" stroke-linejoin="round" shape-rendering="geometricPrecision"/>
<path d="M63.5 162.1 L91.60000000000001 162.1 Q94.10000000000001 162.1 94.10000000000001 164.6 L94.10000000000001 174.70000000000002 Q94.10000000000001 177.20000000000002 91.60000000000001 177.20000000000002 L63.5 177.20000000000002 Q61.0 177.20000000000002 61.0 174.70000000000002 L61.0 172.9 L59.5 172.9 L52.3 170.7 L44.3 170.4 L44.3 169.6 L52.3 169.3 L59.5 167.1 L61.0 167.1 L61.0 164.6 Q61.0 162.1 63.5 162.1 Z" fill="#fff" stroke="#000" stroke-width="2.0" stroke-linejoin="round" shape-rendering="geometricPrecision"/>
<text transform="translate(65.8 173.8) scale(0.8 1)" font-size="13" textLength="25.62" lengthAdjust="spacing">J14</text>
<path d="M63.5 183.2 L91.60000000000001 183.2 Q94.10000000000001 183.2 94.10000000000001 185.7 L94.10000000000001 195.5 Q94.10000000000001 198.0 91.60000000000001 198.0 L63.5 198.0 Q61.0 198.0 61.0 195.5 L61.0 194.1 L59.5 194.1 L53.3 191.89999999999998 L45.3 191.6 L45.3 190.79999999999998 L53.3 190.5 L59.5 188.29999999999998 L61.0 188.29999999999998 L61.0 185.7 Q61.0 183.2 63.5 183.2 Z" transform="translate(0.6 0.6)" fill="#fff" stroke="#000" stroke-width="2.0" stroke-linejoin="round" shape-rendering="geometricPrecision"/>
<path d="M63.5 183.2 L91.60000000000001 183.2 Q94.10000000000001 183.2 94.10000000000001 185.7 L94.10000000000001 195.5 Q94.10000000000001 198.0 91.60000000000001 198.0 L63.5 198.0 Q61.0 198.0 61.0 195.5 L61.0 194.1 L59.5 194.1 L53.3 191.89999999999998 L45.3 191.6 L45.3 190.79999999999998 L53.3 190.5 L59.5 188.29999999999998 L61.0 188.29999999999998 L61.0 185.7 Q61.0 183.2 63.5 183.2 Z" fill="#fff" stroke="#000" stroke-width="2.0" stroke-linejoin="round" shape-rendering="geometricPrecision"/>
<text transform="translate(65.8 194.6) scale(0.8 1)" font-size="13" textLength="26.25" lengthAdjust="spacing">J12</text>
<path d="M41.5 309.0 L58.9 309.0 Q61.4 309.0 61.4 311.5 L61.4 321.29999999999995 L69.3 333.2 L57.8 324.9 L41.5 324.9 Q39.0 324.9 39.0 322.4  L39.0 311.5 Q39.0 309.0 41.5 309.0 Z" transform="translate(0.6 0.6)" fill="#fff" stroke="#000" stroke-width="2.0" stroke-linejoin="round" shape-rendering="geometricPrecision"/>
<path d="M41.5 309.0 L58.9 309.0 Q61.4 309.0 61.4 311.5 L61.4 321.29999999999995 L69.3 333.2 L57.8 324.9 L41.5 324.9 Q39.0 324.9 39.0 322.4  L39.0 311.5 Q39.0 309.0 41.5 309.0 Z" fill="#fff" stroke="#000" stroke-width="2.0" stroke-linejoin="round" shape-rendering="geometricPrecision"/>
<text transform="translate(41 321.3) scale(0.72 1)" font-size="13" textLength="24.31" lengthAdjust="spacing">W4</text>
<path d="M41.8 354.6 L58.3 354.6 L68.7 346.1 L61.9 358.20000000000005 L61.9 367.4 Q61.9 369.9 59.4 369.9 L41.8 369.9 Q39.3 369.9 39.3 367.4  L39.3 357.1 Q39.3 354.6 41.8 354.6 Z" transform="translate(0.6 0.6)" fill="#fff" stroke="#000" stroke-width="2.0" stroke-linejoin="round" shape-rendering="geometricPrecision"/>
<path d="M41.8 354.6 L58.3 354.6 L68.7 346.1 L61.9 358.20000000000005 L61.9 367.4 Q61.9 369.9 59.4 369.9 L41.8 369.9 Q39.3 369.9 39.3 367.4  L39.3 357.1 Q39.3 354.6 41.8 354.6 Z" fill="#fff" stroke="#000" stroke-width="2.0" stroke-linejoin="round" shape-rendering="geometricPrecision"/>
<text transform="translate(41 366) scale(0.72 1)" font-size="13" textLength="24.31" lengthAdjust="spacing">W3</text>
<path d="M734.7 475.3 L751.9 475.3 Q754.4 475.3 754.4 477.8 L754.4 488.09999999999997 Q754.4 490.59999999999997 751.9 490.59999999999997 L737.2 490.59999999999997 L724 499.5 L732.2 489.79999999999995  L732.2 477.8 Q732.2 475.3 734.7 475.3 Z" transform="translate(0.6 0.6)" fill="#fff" stroke="#000" stroke-width="2.0" stroke-linejoin="round" shape-rendering="geometricPrecision"/>
<path d="M734.7 475.3 L751.9 475.3 Q754.4 475.3 754.4 477.8 L754.4 488.09999999999997 Q754.4 490.59999999999997 751.9 490.59999999999997 L737.2 490.59999999999997 L724 499.5 L732.2 489.79999999999995  L732.2 477.8 Q732.2 475.3 734.7 475.3 Z" fill="#fff" stroke="#000" stroke-width="2.0" stroke-linejoin="round" shape-rendering="geometricPrecision"/>
<text transform="translate(734.2 486.7) scale(0.72 1)" font-size="13" textLength="24.31" lengthAdjust="spacing">W2</text>
<path d="M750.5 502.0 L769.1 502.0 Q771.6 502.0 771.6 504.5 L771.6 515.5 Q771.6 518.0 769.1 518.0 L750.5 518.0 Q748.0 518.0 748.0 515.5 L748.0 513.9 L746.5 513.9 L739.8 513.7 L731.8 513.4 L731.8 512.6 L739.8 512.3 L746.5 507.3 L748.0 507.3 L748.0 504.5 Q748.0 502.0 750.5 502.0 Z" transform="translate(0.6 0.6)" fill="#fff" stroke="#000" stroke-width="2.0" stroke-linejoin="round" shape-rendering="geometricPrecision"/>
<path d="M750.5 502.0 L769.1 502.0 Q771.6 502.0 771.6 504.5 L771.6 515.5 Q771.6 518.0 769.1 518.0 L750.5 518.0 Q748.0 518.0 748.0 515.5 L748.0 513.9 L746.5 513.9 L739.8 513.7 L731.8 513.4 L731.8 512.6 L739.8 512.3 L746.5 507.3 L748.0 507.3 L748.0 504.5 Q748.0 502.0 750.5 502.0 Z" fill="#fff" stroke="#000" stroke-width="2.0" stroke-linejoin="round" shape-rendering="geometricPrecision"/>
<text transform="translate(751.7 513.4) scale(0.72 1)" font-size="13" textLength="21.25" lengthAdjust="spacing">W1</text>
<path d="M464.6 490.2 L482.29999999999995 490.2 Q484.79999999999995 490.2 484.79999999999995 492.7 L484.79999999999995 503.0 L493 514.3 L481.79999999999995 505.4 L464.6 505.4 Q462.1 505.4 462.1 502.9  L462.1 492.7 Q462.1 490.2 464.6 490.2 Z" transform="translate(0.6 0.6)" fill="#fff" stroke="#000" stroke-width="2.0" stroke-linejoin="round" shape-rendering="geometricPrecision"/>
<path d="M464.6 490.2 L482.29999999999995 490.2 Q484.79999999999995 490.2 484.79999999999995 492.7 L484.79999999999995 503.0 L493 514.3 L481.79999999999995 505.4 L464.6 505.4 Q462.1 505.4 462.1 502.9  L462.1 492.7 Q462.1 490.2 464.6 490.2 Z" fill="#fff" stroke="#000" stroke-width="2.0" stroke-linejoin="round" shape-rendering="geometricPrecision"/>
<text transform="translate(466 501.8) scale(0.8 1)" font-size="13" textLength="15.62" lengthAdjust="spacing">J3</text>
</svg>
</body></html>
